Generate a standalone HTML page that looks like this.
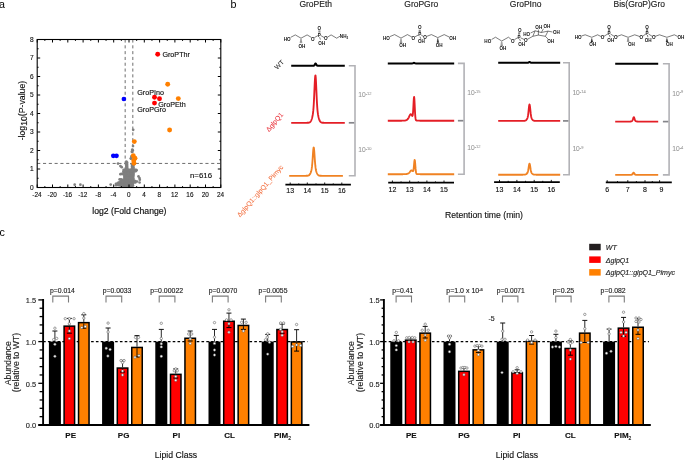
<!DOCTYPE html>
<html><head><meta charset="utf-8"><title>Figure</title>
<style>
html,body{margin:0;padding:0;background:#fff;width:685px;height:461px;overflow:hidden}
svg{display:block;will-change:transform;font-family:"Liberation Sans",sans-serif}
</style></head><body>
<svg width="685" height="461" viewBox="0 0 685 461">
<rect width="685" height="461" fill="#fff"/>
<text x="-1" y="7.8" font-size="10.7">a</text>
<text x="230.6" y="7.8" font-size="10.7">b</text>
<text x="-0.6" y="235.9" font-size="10.7">c</text>
<line x1="37.2" y1="163.43" x2="220.8" y2="163.43" stroke="#6e6e6e" stroke-width="1" stroke-dasharray="3.1 2.7"/>
<line x1="125.17" y1="39.5" x2="125.17" y2="187.5" stroke="#6e6e6e" stroke-width="1" stroke-dasharray="3.1 2.7"/>
<line x1="132.82" y1="39.5" x2="132.82" y2="187.5" stroke="#6e6e6e" stroke-width="1" stroke-dasharray="3.1 2.7"/>
<circle cx="126.25" cy="162.66" r="1.35" fill="#7f7f7f" />
<circle cx="127.15" cy="162.63" r="1.35" fill="#7f7f7f" />
<circle cx="126.31" cy="164.15" r="1.35" fill="#7f7f7f" />
<circle cx="126.97" cy="164.2" r="1.35" fill="#7f7f7f" />
<circle cx="131.96" cy="164.17" r="1.35" fill="#7f7f7f" />
<circle cx="133.27" cy="164.04" r="1.35" fill="#7f7f7f" />
<circle cx="126.28" cy="165.73" r="1.35" fill="#7f7f7f" />
<circle cx="126.99" cy="165.49" r="1.35" fill="#7f7f7f" />
<circle cx="132.14" cy="165.78" r="1.35" fill="#7f7f7f" />
<circle cx="133.42" cy="165.56" r="1.35" fill="#7f7f7f" />
<circle cx="126.44" cy="166.82" r="1.35" fill="#7f7f7f" />
<circle cx="127.21" cy="166.92" r="1.35" fill="#7f7f7f" />
<circle cx="131.99" cy="166.85" r="1.35" fill="#7f7f7f" />
<circle cx="133.34" cy="167.13" r="1.35" fill="#7f7f7f" />
<circle cx="126.2" cy="168.43" r="1.35" fill="#7f7f7f" />
<circle cx="127.14" cy="168.35" r="1.35" fill="#7f7f7f" />
<circle cx="132.11" cy="168.23" r="1.35" fill="#7f7f7f" />
<circle cx="133.27" cy="168.28" r="1.35" fill="#7f7f7f" />
<circle cx="123.65" cy="169.77" r="1.35" fill="#7f7f7f" />
<circle cx="124.9" cy="169.83" r="1.35" fill="#7f7f7f" />
<circle cx="126.3" cy="169.72" r="1.35" fill="#7f7f7f" />
<circle cx="127.75" cy="169.88" r="1.35" fill="#7f7f7f" />
<circle cx="128.95" cy="169.83" r="1.35" fill="#7f7f7f" />
<circle cx="130.39" cy="169.95" r="1.35" fill="#7f7f7f" />
<circle cx="131.8" cy="169.72" r="1.35" fill="#7f7f7f" />
<circle cx="133.23" cy="169.65" r="1.35" fill="#7f7f7f" />
<circle cx="134.42" cy="169.9" r="1.35" fill="#7f7f7f" />
<circle cx="135.7" cy="169.8" r="1.35" fill="#7f7f7f" />
<circle cx="123.46" cy="171.27" r="1.35" fill="#7f7f7f" />
<circle cx="125.03" cy="171.23" r="1.35" fill="#7f7f7f" />
<circle cx="126.42" cy="171.13" r="1.35" fill="#7f7f7f" />
<circle cx="127.73" cy="171.24" r="1.35" fill="#7f7f7f" />
<circle cx="129.05" cy="171.18" r="1.35" fill="#7f7f7f" />
<circle cx="130.48" cy="171.38" r="1.35" fill="#7f7f7f" />
<circle cx="131.73" cy="171.27" r="1.35" fill="#7f7f7f" />
<circle cx="132.96" cy="171.28" r="1.35" fill="#7f7f7f" />
<circle cx="134.49" cy="171.4" r="1.35" fill="#7f7f7f" />
<circle cx="135.9" cy="171.11" r="1.35" fill="#7f7f7f" />
<circle cx="123.57" cy="172.67" r="1.35" fill="#7f7f7f" />
<circle cx="124.86" cy="172.58" r="1.35" fill="#7f7f7f" />
<circle cx="126.3" cy="172.45" r="1.35" fill="#7f7f7f" />
<circle cx="127.67" cy="172.71" r="1.35" fill="#7f7f7f" />
<circle cx="129.09" cy="172.5" r="1.35" fill="#7f7f7f" />
<circle cx="130.57" cy="172.75" r="1.35" fill="#7f7f7f" />
<circle cx="131.87" cy="172.58" r="1.35" fill="#7f7f7f" />
<circle cx="133.41" cy="172.75" r="1.35" fill="#7f7f7f" />
<circle cx="120.4" cy="174.15" r="1.35" fill="#7f7f7f" />
<circle cx="121.69" cy="173.97" r="1.35" fill="#7f7f7f" />
<circle cx="123.17" cy="174.15" r="1.35" fill="#7f7f7f" />
<circle cx="124.8" cy="173.86" r="1.35" fill="#7f7f7f" />
<circle cx="126.03" cy="173.89" r="1.35" fill="#7f7f7f" />
<circle cx="127.5" cy="173.99" r="1.35" fill="#7f7f7f" />
<circle cx="129.06" cy="173.91" r="1.35" fill="#7f7f7f" />
<circle cx="130.34" cy="173.97" r="1.35" fill="#7f7f7f" />
<circle cx="131.91" cy="174.03" r="1.35" fill="#7f7f7f" />
<circle cx="133.54" cy="174.08" r="1.35" fill="#7f7f7f" />
<circle cx="124.5" cy="175.45" r="1.35" fill="#7f7f7f" />
<circle cx="126.04" cy="175.22" r="1.35" fill="#7f7f7f" />
<circle cx="127.59" cy="175.51" r="1.35" fill="#7f7f7f" />
<circle cx="129.06" cy="175.52" r="1.35" fill="#7f7f7f" />
<circle cx="130.4" cy="175.36" r="1.35" fill="#7f7f7f" />
<circle cx="131.8" cy="175.45" r="1.35" fill="#7f7f7f" />
<circle cx="133.27" cy="175.23" r="1.35" fill="#7f7f7f" />
<circle cx="124.41" cy="176.66" r="1.35" fill="#7f7f7f" />
<circle cx="125.94" cy="176.62" r="1.35" fill="#7f7f7f" />
<circle cx="127.32" cy="176.66" r="1.35" fill="#7f7f7f" />
<circle cx="128.83" cy="176.75" r="1.35" fill="#7f7f7f" />
<circle cx="130.29" cy="176.95" r="1.35" fill="#7f7f7f" />
<circle cx="131.95" cy="176.66" r="1.35" fill="#7f7f7f" />
<circle cx="133.33" cy="176.74" r="1.35" fill="#7f7f7f" />
<circle cx="124.46" cy="178.05" r="1.35" fill="#7f7f7f" />
<circle cx="126.09" cy="178.4" r="1.35" fill="#7f7f7f" />
<circle cx="127.46" cy="178.19" r="1.35" fill="#7f7f7f" />
<circle cx="128.83" cy="178.04" r="1.35" fill="#7f7f7f" />
<circle cx="130.39" cy="178.11" r="1.35" fill="#7f7f7f" />
<circle cx="132.02" cy="178.06" r="1.35" fill="#7f7f7f" />
<circle cx="133.26" cy="178.38" r="1.35" fill="#7f7f7f" />
<circle cx="119.61" cy="179.46" r="1.35" fill="#7f7f7f" />
<circle cx="120.99" cy="179.41" r="1.35" fill="#7f7f7f" />
<circle cx="122.37" cy="179.79" r="1.35" fill="#7f7f7f" />
<circle cx="123.85" cy="179.68" r="1.35" fill="#7f7f7f" />
<circle cx="125.05" cy="179.55" r="1.35" fill="#7f7f7f" />
<circle cx="126.4" cy="179.71" r="1.35" fill="#7f7f7f" />
<circle cx="127.89" cy="179.71" r="1.35" fill="#7f7f7f" />
<circle cx="129.21" cy="179.49" r="1.35" fill="#7f7f7f" />
<circle cx="130.73" cy="179.79" r="1.35" fill="#7f7f7f" />
<circle cx="132.13" cy="179.72" r="1.35" fill="#7f7f7f" />
<circle cx="133.5" cy="179.7" r="1.35" fill="#7f7f7f" />
<circle cx="120.92" cy="181.01" r="1.35" fill="#7f7f7f" />
<circle cx="122.38" cy="180.81" r="1.35" fill="#7f7f7f" />
<circle cx="123.7" cy="180.91" r="1.35" fill="#7f7f7f" />
<circle cx="125.19" cy="181.08" r="1.35" fill="#7f7f7f" />
<circle cx="126.82" cy="180.98" r="1.35" fill="#7f7f7f" />
<circle cx="128.23" cy="181.2" r="1.35" fill="#7f7f7f" />
<circle cx="129.66" cy="180.95" r="1.35" fill="#7f7f7f" />
<circle cx="130.86" cy="180.89" r="1.35" fill="#7f7f7f" />
<circle cx="132.27" cy="180.88" r="1.35" fill="#7f7f7f" />
<circle cx="133.82" cy="181.16" r="1.35" fill="#7f7f7f" />
<circle cx="135.3" cy="180.99" r="1.35" fill="#7f7f7f" />
<circle cx="118.45" cy="182.52" r="1.35" fill="#7f7f7f" />
<circle cx="119.68" cy="182.46" r="1.35" fill="#7f7f7f" />
<circle cx="121.32" cy="182.51" r="1.35" fill="#7f7f7f" />
<circle cx="122.68" cy="182.39" r="1.35" fill="#7f7f7f" />
<circle cx="123.9" cy="182.52" r="1.35" fill="#7f7f7f" />
<circle cx="125.35" cy="182.52" r="1.35" fill="#7f7f7f" />
<circle cx="126.94" cy="182.36" r="1.35" fill="#7f7f7f" />
<circle cx="128.17" cy="182.58" r="1.35" fill="#7f7f7f" />
<circle cx="129.67" cy="182.27" r="1.35" fill="#7f7f7f" />
<circle cx="130.89" cy="182.26" r="1.35" fill="#7f7f7f" />
<circle cx="132.52" cy="182.52" r="1.35" fill="#7f7f7f" />
<circle cx="133.69" cy="182.53" r="1.35" fill="#7f7f7f" />
<circle cx="135.34" cy="182.46" r="1.35" fill="#7f7f7f" />
<circle cx="115.96" cy="183.82" r="1.35" fill="#7f7f7f" />
<circle cx="117.29" cy="183.61" r="1.35" fill="#7f7f7f" />
<circle cx="118.94" cy="183.86" r="1.35" fill="#7f7f7f" />
<circle cx="120.21" cy="183.97" r="1.35" fill="#7f7f7f" />
<circle cx="121.58" cy="183.95" r="1.35" fill="#7f7f7f" />
<circle cx="123.1" cy="183.68" r="1.35" fill="#7f7f7f" />
<circle cx="124.33" cy="183.72" r="1.35" fill="#7f7f7f" />
<circle cx="125.72" cy="183.83" r="1.35" fill="#7f7f7f" />
<circle cx="127.13" cy="183.77" r="1.35" fill="#7f7f7f" />
<circle cx="128.49" cy="183.96" r="1.35" fill="#7f7f7f" />
<circle cx="129.96" cy="183.78" r="1.35" fill="#7f7f7f" />
<circle cx="131.43" cy="183.96" r="1.35" fill="#7f7f7f" />
<circle cx="132.78" cy="183.97" r="1.35" fill="#7f7f7f" />
<circle cx="116" cy="185.21" r="1.35" fill="#7f7f7f" />
<circle cx="117.41" cy="185.01" r="1.35" fill="#7f7f7f" />
<circle cx="118.78" cy="185.07" r="1.35" fill="#7f7f7f" />
<circle cx="120.05" cy="185.32" r="1.35" fill="#7f7f7f" />
<circle cx="121.5" cy="185.19" r="1.35" fill="#7f7f7f" />
<circle cx="123.07" cy="185.22" r="1.35" fill="#7f7f7f" />
<circle cx="124.35" cy="185.21" r="1.35" fill="#7f7f7f" />
<circle cx="125.82" cy="185.31" r="1.35" fill="#7f7f7f" />
<circle cx="127.08" cy="185.22" r="1.35" fill="#7f7f7f" />
<circle cx="128.52" cy="185.11" r="1.35" fill="#7f7f7f" />
<circle cx="130.08" cy="185.2" r="1.35" fill="#7f7f7f" />
<circle cx="131.42" cy="185.3" r="1.35" fill="#7f7f7f" />
<circle cx="132.92" cy="185.18" r="1.35" fill="#7f7f7f" />
<circle cx="122.03" cy="186.3" r="1.35" fill="#7f7f7f" />
<circle cx="123.43" cy="186.38" r="1.35" fill="#7f7f7f" />
<circle cx="124.84" cy="186.31" r="1.35" fill="#7f7f7f" />
<circle cx="126.28" cy="186.48" r="1.35" fill="#7f7f7f" />
<circle cx="127.77" cy="186.45" r="1.35" fill="#7f7f7f" />
<circle cx="129.28" cy="186.2" r="1.35" fill="#7f7f7f" />
<circle cx="130.59" cy="186.48" r="1.35" fill="#7f7f7f" />
<circle cx="132.1" cy="186.15" r="1.35" fill="#7f7f7f" />
<circle cx="118" cy="163.6" r="1.35" fill="#7f7f7f" />
<circle cx="120.4" cy="166.1" r="1.35" fill="#7f7f7f" />
<circle cx="121.7" cy="167.2" r="1.35" fill="#7f7f7f" />
<circle cx="110.7" cy="184.6" r="1.35" fill="#7f7f7f" />
<circle cx="74.7" cy="184.7" r="1.35" fill="#7f7f7f" />
<circle cx="80.4" cy="184.7" r="1.35" fill="#7f7f7f" />
<circle cx="138.5" cy="176.4" r="1.35" fill="#7f7f7f" />
<circle cx="139.5" cy="178" r="1.35" fill="#7f7f7f" />
<circle cx="139.8" cy="179.7" r="1.35" fill="#7f7f7f" />
<circle cx="139.6" cy="182.5" r="1.35" fill="#7f7f7f" />
<circle cx="137" cy="181.5" r="1.35" fill="#7f7f7f" />
<circle cx="136.6" cy="170.2" r="1.35" fill="#7f7f7f" />
<circle cx="133.2" cy="129.8" r="1.35" fill="#7f7f7f" />
<circle cx="132.7" cy="150.3" r="1.35" fill="#7f7f7f" />
<circle cx="132.1" cy="152" r="1.35" fill="#7f7f7f" />
<circle cx="131.4" cy="156.4" r="1.35" fill="#7f7f7f" />
<circle cx="131" cy="158.4" r="1.35" fill="#7f7f7f" />
<circle cx="126.4" cy="161.6" r="1.35" fill="#7f7f7f" />
<circle cx="133" cy="146.1" r="1.35" fill="#7f7f7f" />
<circle cx="132.3" cy="149.6" r="1.35" fill="#7f7f7f" />
<circle cx="131.9" cy="151.7" r="1.35" fill="#7f7f7f" />
<circle cx="130.9" cy="158.6" r="1.35" fill="#7f7f7f" />
<circle cx="134.3" cy="141.6" r="2.45" fill="#ff8000" />
<circle cx="133.3" cy="155.8" r="2.45" fill="#ff8000" />
<circle cx="135" cy="158.3" r="2.45" fill="#ff8000" />
<circle cx="133.7" cy="160.7" r="2.45" fill="#ff8000" />
<circle cx="134" cy="163.3" r="2.45" fill="#ff8000" />
<circle cx="169.6" cy="130" r="2.45" fill="#ff8000" />
<circle cx="167.7" cy="84.3" r="2.45" fill="#ff8000" />
<circle cx="178.3" cy="98.6" r="2.45" fill="#ff8000" />
<circle cx="157.7" cy="54.2" r="2.45" fill="#ff0000" />
<circle cx="154.5" cy="97.3" r="2.45" fill="#ff0000" />
<circle cx="159.5" cy="98.8" r="2.45" fill="#ff0000" />
<circle cx="154.5" cy="103.1" r="2.45" fill="#ff0000" />
<circle cx="123.9" cy="99" r="2.35" fill="#0000ff" />
<circle cx="113.3" cy="155.8" r="2.35" fill="#0000ff" />
<circle cx="116.5" cy="155.8" r="2.35" fill="#0000ff" />
<rect x="37.2" y="39.5" width="183.6" height="148" fill="none" stroke="#000" stroke-width="1.1"/>
<line x1="37.2" y1="187.5" x2="37.2" y2="184.5" stroke="#000" stroke-width="1" />
<line x1="37.2" y1="39.5" x2="37.2" y2="42.5" stroke="#000" stroke-width="1" />
<line x1="44.85" y1="187.5" x2="44.85" y2="186.1" stroke="#000" stroke-width="1" />
<line x1="44.85" y1="39.5" x2="44.85" y2="40.9" stroke="#000" stroke-width="1" />
<line x1="52.5" y1="187.5" x2="52.5" y2="184.5" stroke="#000" stroke-width="1" />
<line x1="52.5" y1="39.5" x2="52.5" y2="42.5" stroke="#000" stroke-width="1" />
<line x1="60.15" y1="187.5" x2="60.15" y2="186.1" stroke="#000" stroke-width="1" />
<line x1="60.15" y1="39.5" x2="60.15" y2="40.9" stroke="#000" stroke-width="1" />
<line x1="67.8" y1="187.5" x2="67.8" y2="184.5" stroke="#000" stroke-width="1" />
<line x1="67.8" y1="39.5" x2="67.8" y2="42.5" stroke="#000" stroke-width="1" />
<line x1="75.45" y1="187.5" x2="75.45" y2="186.1" stroke="#000" stroke-width="1" />
<line x1="75.45" y1="39.5" x2="75.45" y2="40.9" stroke="#000" stroke-width="1" />
<line x1="83.1" y1="187.5" x2="83.1" y2="184.5" stroke="#000" stroke-width="1" />
<line x1="83.1" y1="39.5" x2="83.1" y2="42.5" stroke="#000" stroke-width="1" />
<line x1="90.75" y1="187.5" x2="90.75" y2="186.1" stroke="#000" stroke-width="1" />
<line x1="90.75" y1="39.5" x2="90.75" y2="40.9" stroke="#000" stroke-width="1" />
<line x1="98.4" y1="187.5" x2="98.4" y2="184.5" stroke="#000" stroke-width="1" />
<line x1="98.4" y1="39.5" x2="98.4" y2="42.5" stroke="#000" stroke-width="1" />
<line x1="106.05" y1="187.5" x2="106.05" y2="186.1" stroke="#000" stroke-width="1" />
<line x1="106.05" y1="39.5" x2="106.05" y2="40.9" stroke="#000" stroke-width="1" />
<line x1="113.7" y1="187.5" x2="113.7" y2="184.5" stroke="#000" stroke-width="1" />
<line x1="113.7" y1="39.5" x2="113.7" y2="42.5" stroke="#000" stroke-width="1" />
<line x1="121.35" y1="187.5" x2="121.35" y2="186.1" stroke="#000" stroke-width="1" />
<line x1="121.35" y1="39.5" x2="121.35" y2="40.9" stroke="#000" stroke-width="1" />
<line x1="129" y1="187.5" x2="129" y2="184.5" stroke="#000" stroke-width="1" />
<line x1="129" y1="39.5" x2="129" y2="42.5" stroke="#000" stroke-width="1" />
<line x1="136.65" y1="187.5" x2="136.65" y2="186.1" stroke="#000" stroke-width="1" />
<line x1="136.65" y1="39.5" x2="136.65" y2="40.9" stroke="#000" stroke-width="1" />
<line x1="144.3" y1="187.5" x2="144.3" y2="184.5" stroke="#000" stroke-width="1" />
<line x1="144.3" y1="39.5" x2="144.3" y2="42.5" stroke="#000" stroke-width="1" />
<line x1="151.95" y1="187.5" x2="151.95" y2="186.1" stroke="#000" stroke-width="1" />
<line x1="151.95" y1="39.5" x2="151.95" y2="40.9" stroke="#000" stroke-width="1" />
<line x1="159.6" y1="187.5" x2="159.6" y2="184.5" stroke="#000" stroke-width="1" />
<line x1="159.6" y1="39.5" x2="159.6" y2="42.5" stroke="#000" stroke-width="1" />
<line x1="167.25" y1="187.5" x2="167.25" y2="186.1" stroke="#000" stroke-width="1" />
<line x1="167.25" y1="39.5" x2="167.25" y2="40.9" stroke="#000" stroke-width="1" />
<line x1="174.9" y1="187.5" x2="174.9" y2="184.5" stroke="#000" stroke-width="1" />
<line x1="174.9" y1="39.5" x2="174.9" y2="42.5" stroke="#000" stroke-width="1" />
<line x1="182.55" y1="187.5" x2="182.55" y2="186.1" stroke="#000" stroke-width="1" />
<line x1="182.55" y1="39.5" x2="182.55" y2="40.9" stroke="#000" stroke-width="1" />
<line x1="190.2" y1="187.5" x2="190.2" y2="184.5" stroke="#000" stroke-width="1" />
<line x1="190.2" y1="39.5" x2="190.2" y2="42.5" stroke="#000" stroke-width="1" />
<line x1="197.85" y1="187.5" x2="197.85" y2="186.1" stroke="#000" stroke-width="1" />
<line x1="197.85" y1="39.5" x2="197.85" y2="40.9" stroke="#000" stroke-width="1" />
<line x1="205.5" y1="187.5" x2="205.5" y2="184.5" stroke="#000" stroke-width="1" />
<line x1="205.5" y1="39.5" x2="205.5" y2="42.5" stroke="#000" stroke-width="1" />
<line x1="213.15" y1="187.5" x2="213.15" y2="186.1" stroke="#000" stroke-width="1" />
<line x1="213.15" y1="39.5" x2="213.15" y2="40.9" stroke="#000" stroke-width="1" />
<line x1="220.8" y1="187.5" x2="220.8" y2="184.5" stroke="#000" stroke-width="1" />
<line x1="220.8" y1="39.5" x2="220.8" y2="42.5" stroke="#000" stroke-width="1" />
<line x1="37.2" y1="187.5" x2="40.2" y2="187.5" stroke="#000" stroke-width="1" />
<line x1="220.8" y1="187.5" x2="217.8" y2="187.5" stroke="#000" stroke-width="1" />
<line x1="37.2" y1="178.25" x2="38.6" y2="178.25" stroke="#000" stroke-width="1" />
<line x1="220.8" y1="178.25" x2="219.4" y2="178.25" stroke="#000" stroke-width="1" />
<line x1="37.2" y1="169" x2="40.2" y2="169" stroke="#000" stroke-width="1" />
<line x1="220.8" y1="169" x2="217.8" y2="169" stroke="#000" stroke-width="1" />
<line x1="37.2" y1="159.75" x2="38.6" y2="159.75" stroke="#000" stroke-width="1" />
<line x1="220.8" y1="159.75" x2="219.4" y2="159.75" stroke="#000" stroke-width="1" />
<line x1="37.2" y1="150.5" x2="40.2" y2="150.5" stroke="#000" stroke-width="1" />
<line x1="220.8" y1="150.5" x2="217.8" y2="150.5" stroke="#000" stroke-width="1" />
<line x1="37.2" y1="141.25" x2="38.6" y2="141.25" stroke="#000" stroke-width="1" />
<line x1="220.8" y1="141.25" x2="219.4" y2="141.25" stroke="#000" stroke-width="1" />
<line x1="37.2" y1="132" x2="40.2" y2="132" stroke="#000" stroke-width="1" />
<line x1="220.8" y1="132" x2="217.8" y2="132" stroke="#000" stroke-width="1" />
<line x1="37.2" y1="122.75" x2="38.6" y2="122.75" stroke="#000" stroke-width="1" />
<line x1="220.8" y1="122.75" x2="219.4" y2="122.75" stroke="#000" stroke-width="1" />
<line x1="37.2" y1="113.5" x2="40.2" y2="113.5" stroke="#000" stroke-width="1" />
<line x1="220.8" y1="113.5" x2="217.8" y2="113.5" stroke="#000" stroke-width="1" />
<line x1="37.2" y1="104.25" x2="38.6" y2="104.25" stroke="#000" stroke-width="1" />
<line x1="220.8" y1="104.25" x2="219.4" y2="104.25" stroke="#000" stroke-width="1" />
<line x1="37.2" y1="95" x2="40.2" y2="95" stroke="#000" stroke-width="1" />
<line x1="220.8" y1="95" x2="217.8" y2="95" stroke="#000" stroke-width="1" />
<line x1="37.2" y1="85.75" x2="38.6" y2="85.75" stroke="#000" stroke-width="1" />
<line x1="220.8" y1="85.75" x2="219.4" y2="85.75" stroke="#000" stroke-width="1" />
<line x1="37.2" y1="76.5" x2="40.2" y2="76.5" stroke="#000" stroke-width="1" />
<line x1="220.8" y1="76.5" x2="217.8" y2="76.5" stroke="#000" stroke-width="1" />
<line x1="37.2" y1="67.25" x2="38.6" y2="67.25" stroke="#000" stroke-width="1" />
<line x1="220.8" y1="67.25" x2="219.4" y2="67.25" stroke="#000" stroke-width="1" />
<line x1="37.2" y1="58" x2="40.2" y2="58" stroke="#000" stroke-width="1" />
<line x1="220.8" y1="58" x2="217.8" y2="58" stroke="#000" stroke-width="1" />
<line x1="37.2" y1="48.75" x2="38.6" y2="48.75" stroke="#000" stroke-width="1" />
<line x1="220.8" y1="48.75" x2="219.4" y2="48.75" stroke="#000" stroke-width="1" />
<line x1="37.2" y1="39.5" x2="40.2" y2="39.5" stroke="#000" stroke-width="1" />
<line x1="220.8" y1="39.5" x2="217.8" y2="39.5" stroke="#000" stroke-width="1" />
<text x="36.9" y="197" font-size="7" stroke="#111" stroke-width="0.14" text-anchor="middle" fill="#111" textLength="9.25" lengthAdjust="spacingAndGlyphs">-24</text>
<text x="52.2" y="197" font-size="7" stroke="#111" stroke-width="0.14" text-anchor="middle" fill="#111" textLength="9.25" lengthAdjust="spacingAndGlyphs">-20</text>
<text x="67.5" y="197" font-size="7" stroke="#111" stroke-width="0.14" text-anchor="middle" fill="#111" textLength="9.25" lengthAdjust="spacingAndGlyphs">-16</text>
<text x="82.8" y="197" font-size="7" stroke="#111" stroke-width="0.14" text-anchor="middle" fill="#111" textLength="9.25" lengthAdjust="spacingAndGlyphs">-12</text>
<text x="98.1" y="197" font-size="7" stroke="#111" stroke-width="0.14" text-anchor="middle" fill="#111" textLength="5.69" lengthAdjust="spacingAndGlyphs">-8</text>
<text x="113.4" y="197" font-size="7" stroke="#111" stroke-width="0.14" text-anchor="middle" fill="#111" textLength="5.69" lengthAdjust="spacingAndGlyphs">-4</text>
<text x="128.7" y="197" font-size="7" stroke="#111" stroke-width="0.14" text-anchor="middle" fill="#111" textLength="3.56" lengthAdjust="spacingAndGlyphs">0</text>
<text x="144" y="197" font-size="7" stroke="#111" stroke-width="0.14" text-anchor="middle" fill="#111" textLength="3.56" lengthAdjust="spacingAndGlyphs">4</text>
<text x="159.3" y="197" font-size="7" stroke="#111" stroke-width="0.14" text-anchor="middle" fill="#111" textLength="3.56" lengthAdjust="spacingAndGlyphs">8</text>
<text x="174.6" y="197" font-size="7" stroke="#111" stroke-width="0.14" text-anchor="middle" fill="#111" textLength="7.12" lengthAdjust="spacingAndGlyphs">12</text>
<text x="189.9" y="197" font-size="7" stroke="#111" stroke-width="0.14" text-anchor="middle" fill="#111" textLength="7.12" lengthAdjust="spacingAndGlyphs">16</text>
<text x="205.2" y="197" font-size="7" stroke="#111" stroke-width="0.14" text-anchor="middle" fill="#111" textLength="7.12" lengthAdjust="spacingAndGlyphs">20</text>
<text x="220.5" y="197" font-size="7" stroke="#111" stroke-width="0.14" text-anchor="middle" fill="#111" textLength="7.12" lengthAdjust="spacingAndGlyphs">24</text>
<text x="33.6" y="189.7" font-size="7" stroke="#111" stroke-width="0.14" text-anchor="end" fill="#111" textLength="3.67" lengthAdjust="spacingAndGlyphs">0</text>
<text x="33.6" y="171.2" font-size="7" stroke="#111" stroke-width="0.14" text-anchor="end" fill="#111" textLength="3.67" lengthAdjust="spacingAndGlyphs">1</text>
<text x="33.6" y="152.7" font-size="7" stroke="#111" stroke-width="0.14" text-anchor="end" fill="#111" textLength="3.67" lengthAdjust="spacingAndGlyphs">2</text>
<text x="33.6" y="134.2" font-size="7" stroke="#111" stroke-width="0.14" text-anchor="end" fill="#111" textLength="3.67" lengthAdjust="spacingAndGlyphs">3</text>
<text x="33.6" y="115.7" font-size="7" stroke="#111" stroke-width="0.14" text-anchor="end" fill="#111" textLength="3.67" lengthAdjust="spacingAndGlyphs">4</text>
<text x="33.6" y="97.2" font-size="7" stroke="#111" stroke-width="0.14" text-anchor="end" fill="#111" textLength="3.67" lengthAdjust="spacingAndGlyphs">5</text>
<text x="33.6" y="78.7" font-size="7" stroke="#111" stroke-width="0.14" text-anchor="end" fill="#111" textLength="3.67" lengthAdjust="spacingAndGlyphs">6</text>
<text x="33.6" y="60.2" font-size="7" stroke="#111" stroke-width="0.14" text-anchor="end" fill="#111" textLength="3.67" lengthAdjust="spacingAndGlyphs">7</text>
<text x="33.6" y="41.7" font-size="7" stroke="#111" stroke-width="0.14" text-anchor="end" fill="#111" textLength="3.67" lengthAdjust="spacingAndGlyphs">8</text>
<text x="190" y="177.8" font-size="7.2" stroke="#111" stroke-width="0.14" fill="#111" textLength="22" lengthAdjust="spacingAndGlyphs">n=616</text>
<text x="162.4" y="56.6" font-size="7.2" stroke="#111" stroke-width="0.14" fill="#111">GroPThr</text>
<text x="137.2" y="95.2" font-size="7.2" stroke="#111" stroke-width="0.14" fill="#111">GroPIno</text>
<text x="158.2" y="106.9" font-size="7.2" stroke="#111" stroke-width="0.14" fill="#111">GroPEth</text>
<text x="137.2" y="111.5" font-size="7.2" stroke="#111" stroke-width="0.14" fill="#111">GroPGro</text>
<text x="92.3" y="213.6" font-size="8.7" stroke="#111" stroke-width="0.18" fill="#111" textLength="74.2" lengthAdjust="spacingAndGlyphs">log2 (Fold Change)</text>
<text transform="translate(25.0,140.3) rotate(-90)" font-size="8.7" fill="#111" stroke="#111" stroke-width="0.14">-log<tspan dy="1.6">10</tspan><tspan dy="-1.6">(P-value)</tspan></text>
<text x="315.7" y="6.7" font-size="8.5" stroke="#222" stroke-width="0.14" text-anchor="middle" fill="#222">GroPEth</text>
<text x="421.3" y="6.7" font-size="8.5" stroke="#222" stroke-width="0.14" text-anchor="middle" fill="#222">GroPGro</text>
<text x="525.6" y="6.7" font-size="8.5" stroke="#222" stroke-width="0.14" text-anchor="middle" fill="#222">GroPIno</text>
<text x="639.3" y="6.7" font-size="8.5" stroke="#222" stroke-width="0.14" text-anchor="middle" fill="#222">Bis(GroP)Gro</text>
<path d="M291.2 65.7 L291.45 65.7 L291.7 65.7 L291.95 65.7 L292.2 65.7 L292.45 65.7 L292.7 65.7 L292.95 65.7 L293.2 65.7 L293.45 65.7 L293.7 65.7 L293.96 65.7 L294.21 65.7 L294.46 65.7 L294.71 65.7 L294.96 65.7 L295.21 65.7 L295.46 65.7 L295.71 65.7 L295.96 65.7 L296.21 65.7 L296.46 65.7 L296.71 65.7 L296.96 65.7 L297.21 65.7 L297.46 65.7 L297.71 65.7 L297.96 65.7 L298.21 65.7 L298.46 65.7 L298.71 65.7 L298.96 65.7 L299.21 65.7 L299.47 65.7 L299.72 65.7 L299.97 65.7 L300.22 65.7 L300.47 65.7 L300.72 65.7 L300.97 65.7 L301.22 65.7 L301.47 65.7 L301.72 65.7 L301.97 65.7 L302.22 65.7 L302.47 65.7 L302.72 65.7 L302.97 65.7 L303.22 65.7 L303.47 65.7 L303.72 65.7 L303.97 65.7 L304.22 65.7 L304.47 65.7 L304.73 65.7 L304.98 65.7 L305.23 65.7 L305.48 65.7 L305.73 65.7 L305.98 65.7 L306.23 65.7 L306.48 65.7 L306.73 65.7 L306.98 65.7 L307.23 65.7 L307.48 65.7 L307.73 65.7 L307.98 65.7 L308.23 65.7 L308.48 65.7 L308.73 65.7 L308.98 65.7 L309.23 65.7 L309.48 65.7 L309.73 65.7 L309.99 65.7 L310.24 65.7 L310.49 65.7 L310.74 65.7 L310.99 65.7 L311.24 65.7 L311.49 65.7 L311.74 65.7 L311.99 65.7 L312.24 65.7 L312.49 65.7 L312.74 65.7 L312.99 65.7 L313.24 65.7 L313.49 65.69 L313.74 65.67 L313.99 65.61 L314.24 65.46 L314.49 65.19 L314.74 64.77 L314.99 64.24 L315.24 63.73 L315.5 63.43 L315.75 63.46 L316 63.81 L316.25 64.33 L316.5 64.85 L316.75 65.25 L317 65.49 L317.25 65.62 L317.5 65.67 L317.75 65.69 L318 65.7 L318.25 65.7 L318.5 65.7 L318.75 65.7 L319 65.7 L319.25 65.7 L319.5 65.7 L319.75 65.7 L320 65.7 L320.25 65.7 L320.5 65.7 L320.76 65.7 L321.01 65.7 L321.26 65.7 L321.51 65.7 L321.76 65.7 L322.01 65.7 L322.26 65.7 L322.51 65.7 L322.76 65.7 L323.01 65.7 L323.26 65.7 L323.51 65.7 L323.76 65.7 L324.01 65.7 L324.26 65.7 L324.51 65.7 L324.76 65.7 L325.01 65.7 L325.26 65.7 L325.51 65.7 L325.76 65.7 L326.01 65.7 L326.27 65.7 L326.52 65.7 L326.77 65.7 L327.02 65.7 L327.27 65.7 L327.52 65.7 L327.77 65.7 L328.02 65.7 L328.27 65.7 L328.52 65.7 L328.77 65.7 L329.02 65.7 L329.27 65.7 L329.52 65.7 L329.77 65.7 L330.02 65.7 L330.27 65.7 L330.52 65.7 L330.77 65.7 L331.02 65.7 L331.27 65.7 L331.53 65.7 L331.78 65.7 L332.03 65.7 L332.28 65.7 L332.53 65.7 L332.78 65.7 L333.03 65.7 L333.28 65.7 L333.53 65.7 L333.78 65.7 L334.03 65.7 L334.28 65.7 L334.53 65.7 L334.78 65.7 L335.03 65.7 L335.28 65.7 L335.53 65.7 L335.78 65.7 L336.03 65.7 L336.28 65.7 L336.53 65.7 L336.79 65.7 L337.04 65.7 L337.29 65.7 L337.54 65.7 L337.79 65.7 L338.04 65.7 L338.29 65.7 L338.54 65.7 L338.79 65.7 L339.04 65.7 L339.29 65.7 L339.54 65.7 L339.79 65.7 L340.04 65.7 L340.29 65.7 L340.54 65.7 L340.79 65.7 L341.04 65.7 L341.29 65.7 L341.54 65.7 L341.79 65.7 L342.04 65.7 L342.3 65.7 L342.55 65.7 L342.8 65.7 L343.05 65.7 L343.3 65.7 L343.55 65.7 L343.8 65.7 L344.05 65.7 L344.3 65.7 L344.55 65.7 L344.8 65.7" stroke="#000" stroke-width="2" fill="none" stroke-linejoin="round" stroke-linecap="butt"/>
<path d="M291.2 122.8 L291.45 122.8 L291.7 122.8 L291.95 122.8 L292.2 122.8 L292.45 122.8 L292.7 122.8 L292.95 122.8 L293.2 122.8 L293.45 122.8 L293.7 122.8 L293.96 122.8 L294.21 122.8 L294.46 122.8 L294.71 122.8 L294.96 122.8 L295.21 122.8 L295.46 122.8 L295.71 122.8 L295.96 122.8 L296.21 122.8 L296.46 122.8 L296.71 122.8 L296.96 122.8 L297.21 122.8 L297.46 122.8 L297.71 122.8 L297.96 122.8 L298.21 122.8 L298.46 122.8 L298.71 122.8 L298.96 122.8 L299.21 122.8 L299.47 122.8 L299.72 122.8 L299.97 122.8 L300.22 122.8 L300.47 122.8 L300.72 122.8 L300.97 122.8 L301.22 122.8 L301.47 122.8 L301.72 122.8 L301.97 122.8 L302.22 122.8 L302.47 122.8 L302.72 122.8 L302.97 122.8 L303.22 122.8 L303.47 122.8 L303.72 122.8 L303.97 122.8 L304.22 122.8 L304.47 122.8 L304.73 122.8 L304.98 122.8 L305.23 122.8 L305.48 122.8 L305.73 122.8 L305.98 122.8 L306.23 122.8 L306.48 122.8 L306.73 122.8 L306.98 122.79 L307.23 122.79 L307.48 122.78 L307.73 122.78 L307.98 122.76 L308.23 122.74 L308.48 122.72 L308.73 122.68 L308.98 122.63 L309.23 122.56 L309.48 122.46 L309.73 122.33 L309.99 122.16 L310.24 121.94 L310.49 121.66 L310.74 121.32 L310.99 120.89 L311.24 120.37 L311.49 119.76 L311.74 119.04 L311.99 118.21 L312.24 117.24 L312.49 116.11 L312.74 114.76 L312.99 113.08 L313.24 110.94 L313.49 108.13 L313.74 104.48 L313.99 99.9 L314.24 94.49 L314.49 88.64 L314.74 83.02 L314.99 78.47 L315.24 75.78 L315.5 75.48 L315.75 77.63 L316 81.8 L316.25 87.25 L316.5 93.11 L316.75 98.67 L317 103.47 L317.25 107.34 L317.5 110.33 L317.75 112.62 L318 114.39 L318.25 115.81 L318.5 116.98 L318.75 117.99 L319 118.85 L319.25 119.6 L319.5 120.24 L319.75 120.78 L320 121.22 L320.25 121.59 L320.5 121.88 L320.76 122.11 L321.01 122.29 L321.26 122.43 L321.51 122.54 L321.76 122.61 L322.01 122.67 L322.26 122.71 L322.51 122.74 L322.76 122.76 L323.01 122.77 L323.26 122.78 L323.51 122.79 L323.76 122.79 L324.01 122.8 L324.26 122.8 L324.51 122.8 L324.76 122.8 L325.01 122.8 L325.26 122.8 L325.51 122.8 L325.76 122.8 L326.01 122.8 L326.27 122.8 L326.52 122.8 L326.77 122.8 L327.02 122.8 L327.27 122.8 L327.52 122.8 L327.77 122.8 L328.02 122.8 L328.27 122.8 L328.52 122.8 L328.77 122.8 L329.02 122.8 L329.27 122.8 L329.52 122.8 L329.77 122.8 L330.02 122.8 L330.27 122.8 L330.52 122.8 L330.77 122.8 L331.02 122.8 L331.27 122.8 L331.53 122.8 L331.78 122.8 L332.03 122.8 L332.28 122.8 L332.53 122.8 L332.78 122.8 L333.03 122.8 L333.28 122.8 L333.53 122.8 L333.78 122.8 L334.03 122.8 L334.28 122.8 L334.53 122.8 L334.78 122.8 L335.03 122.8 L335.28 122.8 L335.53 122.8 L335.78 122.8 L336.03 122.8 L336.28 122.8 L336.53 122.8 L336.79 122.8 L337.04 122.8 L337.29 122.8 L337.54 122.8 L337.79 122.8 L338.04 122.8 L338.29 122.8 L338.54 122.8 L338.79 122.8 L339.04 122.8 L339.29 122.8 L339.54 122.8 L339.79 122.8 L340.04 122.8 L340.29 122.8 L340.54 122.8 L340.79 122.8 L341.04 122.8 L341.29 122.8 L341.54 122.8 L341.79 122.8 L342.04 122.8 L342.3 122.8 L342.55 122.8 L342.8 122.8 L343.05 122.8 L343.3 122.8 L343.55 122.8 L343.8 122.8 L344.05 122.8 L344.3 122.8 L344.55 122.8 L344.8 122.8" stroke="#e41e26" stroke-width="1.85" fill="none" stroke-linejoin="round" stroke-linecap="butt"/>
<path d="M289.2 175.8 L289.45 175.8 L289.7 175.8 L289.95 175.8 L290.2 175.8 L290.45 175.8 L290.71 175.8 L290.96 175.8 L291.21 175.8 L291.46 175.8 L291.71 175.8 L291.96 175.8 L292.21 175.8 L292.46 175.8 L292.71 175.8 L292.96 175.8 L293.21 175.8 L293.47 175.8 L293.72 175.8 L293.97 175.8 L294.22 175.8 L294.47 175.8 L294.72 175.8 L294.97 175.8 L295.22 175.8 L295.47 175.8 L295.72 175.8 L295.98 175.8 L296.23 175.8 L296.48 175.8 L296.73 175.8 L296.98 175.8 L297.23 175.8 L297.48 175.8 L297.73 175.8 L297.98 175.8 L298.23 175.8 L298.48 175.8 L298.74 175.8 L298.99 175.8 L299.24 175.8 L299.49 175.8 L299.74 175.8 L299.99 175.8 L300.24 175.8 L300.49 175.8 L300.74 175.8 L300.99 175.8 L301.24 175.8 L301.5 175.8 L301.75 175.8 L302 175.8 L302.25 175.8 L302.5 175.8 L302.75 175.8 L303 175.8 L303.25 175.8 L303.5 175.8 L303.75 175.8 L304.01 175.8 L304.26 175.8 L304.51 175.8 L304.76 175.8 L305.01 175.8 L305.26 175.8 L305.51 175.8 L305.76 175.8 L306.01 175.79 L306.26 175.79 L306.51 175.79 L306.77 175.78 L307.02 175.77 L307.27 175.75 L307.52 175.72 L307.77 175.69 L308.02 175.64 L308.27 175.57 L308.52 175.47 L308.77 175.35 L309.02 175.19 L309.27 174.98 L309.53 174.72 L309.78 174.4 L310.03 174.02 L310.28 173.56 L310.53 173.03 L310.78 172.4 L311.03 171.66 L311.28 170.77 L311.53 169.63 L311.78 168.13 L312.04 166.13 L312.29 163.49 L312.54 160.22 L312.79 156.5 L313.04 152.77 L313.29 149.65 L313.54 147.75 L313.79 147.52 L314.04 148.99 L314.29 151.84 L314.54 155.47 L314.8 159.25 L315.05 162.67 L315.3 165.48 L315.55 167.65 L315.8 169.27 L316.05 170.49 L316.3 171.44 L316.55 172.21 L316.8 172.87 L317.05 173.42 L317.3 173.9 L317.56 174.31 L317.81 174.64 L318.06 174.92 L318.31 175.14 L318.56 175.31 L318.81 175.44 L319.06 175.55 L319.31 175.62 L319.56 175.68 L319.81 175.72 L320.06 175.74 L320.32 175.76 L320.57 175.78 L320.82 175.78 L321.07 175.79 L321.32 175.79 L321.57 175.8 L321.82 175.8 L322.07 175.8 L322.32 175.8 L322.57 175.8 L322.83 175.8 L323.08 175.8 L323.33 175.8 L323.58 175.8 L323.83 175.8 L324.08 175.8 L324.33 175.8 L324.58 175.8 L324.83 175.8 L325.08 175.8 L325.33 175.8 L325.59 175.8 L325.84 175.8 L326.09 175.8 L326.34 175.8 L326.59 175.8 L326.84 175.8 L327.09 175.8 L327.34 175.8 L327.59 175.8 L327.84 175.8 L328.09 175.8 L328.35 175.8 L328.6 175.8 L328.85 175.8 L329.1 175.8 L329.35 175.8 L329.6 175.8 L329.85 175.8 L330.1 175.8 L330.35 175.8 L330.6 175.8 L330.86 175.8 L331.11 175.8 L331.36 175.8 L331.61 175.8 L331.86 175.8 L332.11 175.8 L332.36 175.8 L332.61 175.8 L332.86 175.8 L333.11 175.8 L333.36 175.8 L333.62 175.8 L333.87 175.8 L334.12 175.8 L334.37 175.8 L334.62 175.8 L334.87 175.8 L335.12 175.8 L335.37 175.8 L335.62 175.8 L335.87 175.8 L336.12 175.8 L336.38 175.8 L336.63 175.8 L336.88 175.8 L337.13 175.8 L337.38 175.8 L337.63 175.8 L337.88 175.8 L338.13 175.8 L338.38 175.8 L338.63 175.8 L338.89 175.8 L339.14 175.8 L339.39 175.8 L339.64 175.8 L339.89 175.8 L340.14 175.8 L340.39 175.8 L340.64 175.8 L340.89 175.8 L341.14 175.8 L341.39 175.8 L341.65 175.8 L341.9 175.8 L342.15 175.8 L342.4 175.8 L342.65 175.8 L342.9 175.8" stroke="#f08223" stroke-width="1.85" fill="none" stroke-linejoin="round" stroke-linecap="butt"/>
<path d="M348.8 65.7 H355 V175.8 H348.8" stroke="#b2b2b6" stroke-width="1.6" fill="none" />
<line x1="348.8" y1="122.8" x2="354.2" y2="122.8" stroke="#85858a" stroke-width="1.7" />
<text x="358.2" y="97.25" font-size="6.7" stroke="#939393" stroke-width="0.05" fill="#939393">10<tspan font-size="4" dy="-2.3">-12</tspan></text>
<text x="358.2" y="152.3" font-size="6.7" stroke="#939393" stroke-width="0.05" fill="#939393">10<tspan font-size="4" dy="-2.3">-10</tspan></text>
<line x1="285.4" y1="184.7" x2="350.9" y2="184.7" stroke="#000" stroke-width="1.8" />
<line x1="290.2" y1="184.7" x2="290.2" y2="182.5" stroke="#000" stroke-width="0.9" />
<text x="290.2" y="193.3" font-size="7" stroke="#111" stroke-width="0.14" text-anchor="middle" fill="#111">13</text>
<line x1="298.75" y1="184.7" x2="298.75" y2="183.4" stroke="#000" stroke-width="0.9" />
<line x1="307.3" y1="184.7" x2="307.3" y2="182.5" stroke="#000" stroke-width="0.9" />
<text x="307.3" y="193.3" font-size="7" stroke="#111" stroke-width="0.14" text-anchor="middle" fill="#111">14</text>
<line x1="316" y1="184.7" x2="316" y2="183.4" stroke="#000" stroke-width="0.9" />
<line x1="324.7" y1="184.7" x2="324.7" y2="182.5" stroke="#000" stroke-width="0.9" />
<text x="324.7" y="193.3" font-size="7" stroke="#111" stroke-width="0.14" text-anchor="middle" fill="#111">15</text>
<line x1="333.25" y1="184.7" x2="333.25" y2="183.4" stroke="#000" stroke-width="0.9" />
<line x1="341.8" y1="184.7" x2="341.8" y2="182.5" stroke="#000" stroke-width="0.9" />
<text x="341.8" y="193.3" font-size="7" stroke="#111" stroke-width="0.14" text-anchor="middle" fill="#111">16</text>
<path d="M387.8 63.4 L388.05 63.4 L388.3 63.4 L388.55 63.4 L388.8 63.4 L389.05 63.4 L389.3 63.4 L389.55 63.4 L389.8 63.4 L390.06 63.4 L390.31 63.4 L390.56 63.4 L390.81 63.4 L391.06 63.4 L391.31 63.4 L391.56 63.4 L391.81 63.4 L392.06 63.4 L392.31 63.4 L392.56 63.4 L392.81 63.4 L393.06 63.4 L393.31 63.4 L393.56 63.4 L393.81 63.4 L394.06 63.4 L394.31 63.4 L394.57 63.4 L394.82 63.4 L395.07 63.4 L395.32 63.4 L395.57 63.4 L395.82 63.4 L396.07 63.4 L396.32 63.4 L396.57 63.4 L396.82 63.4 L397.07 63.4 L397.32 63.4 L397.57 63.4 L397.82 63.4 L398.07 63.4 L398.32 63.4 L398.57 63.4 L398.82 63.4 L399.08 63.4 L399.33 63.4 L399.58 63.4 L399.83 63.4 L400.08 63.4 L400.33 63.4 L400.58 63.4 L400.83 63.4 L401.08 63.4 L401.33 63.4 L401.58 63.4 L401.83 63.4 L402.08 63.4 L402.33 63.4 L402.58 63.4 L402.83 63.4 L403.08 63.4 L403.34 63.4 L403.59 63.4 L403.84 63.4 L404.09 63.4 L404.34 63.4 L404.59 63.4 L404.84 63.4 L405.09 63.4 L405.34 63.4 L405.59 63.4 L405.84 63.4 L406.09 63.4 L406.34 63.4 L406.59 63.4 L406.84 63.4 L407.09 63.4 L407.34 63.4 L407.59 63.4 L407.85 63.4 L408.1 63.4 L408.35 63.4 L408.6 63.4 L408.85 63.4 L409.1 63.4 L409.35 63.4 L409.6 63.4 L409.85 63.4 L410.1 63.4 L410.35 63.4 L410.6 63.4 L410.85 63.4 L411.1 63.4 L411.35 63.4 L411.6 63.4 L411.85 63.4 L412.1 63.4 L412.36 63.39 L412.61 63.37 L412.86 63.32 L413.11 63.23 L413.36 63.09 L413.61 62.93 L413.86 62.82 L414.11 62.81 L414.36 62.91 L414.61 63.06 L414.86 63.21 L415.11 63.31 L415.36 63.37 L415.61 63.39 L415.86 63.4 L416.11 63.4 L416.36 63.4 L416.62 63.4 L416.87 63.4 L417.12 63.4 L417.37 63.4 L417.62 63.4 L417.87 63.4 L418.12 63.4 L418.37 63.4 L418.62 63.4 L418.87 63.4 L419.12 63.4 L419.37 63.4 L419.62 63.4 L419.87 63.4 L420.12 63.4 L420.37 63.4 L420.62 63.4 L420.87 63.4 L421.13 63.4 L421.38 63.4 L421.63 63.4 L421.88 63.4 L422.13 63.4 L422.38 63.4 L422.63 63.4 L422.88 63.4 L423.13 63.4 L423.38 63.4 L423.63 63.4 L423.88 63.4 L424.13 63.4 L424.38 63.4 L424.63 63.4 L424.88 63.4 L425.13 63.4 L425.38 63.4 L425.64 63.4 L425.89 63.4 L426.14 63.4 L426.39 63.4 L426.64 63.4 L426.89 63.4 L427.14 63.4 L427.39 63.4 L427.64 63.4 L427.89 63.4 L428.14 63.4 L428.39 63.4 L428.64 63.4 L428.89 63.4 L429.14 63.4 L429.39 63.4 L429.64 63.4 L429.9 63.4 L430.15 63.4 L430.4 63.4 L430.65 63.4 L430.9 63.4 L431.15 63.4 L431.4 63.4 L431.65 63.4 L431.9 63.4 L432.15 63.4 L432.4 63.4 L432.65 63.4 L432.9 63.4 L433.15 63.4 L433.4 63.4 L433.65 63.4 L433.9 63.4 L434.15 63.4 L434.41 63.4 L434.66 63.4 L434.91 63.4 L435.16 63.4 L435.41 63.4 L435.66 63.4 L435.91 63.4 L436.16 63.4 L436.41 63.4 L436.66 63.4 L436.91 63.4 L437.16 63.4 L437.41 63.4 L437.66 63.4 L437.91 63.4 L438.16 63.4 L438.41 63.4 L438.66 63.4 L438.92 63.4 L439.17 63.4 L439.42 63.4 L439.67 63.4 L439.92 63.4 L440.17 63.4 L440.42 63.4 L440.67 63.4 L440.92 63.4 L441.17 63.4 L441.42 63.4 L441.67 63.4 L441.92 63.4 L442.17 63.4 L442.42 63.4 L442.67 63.4 L442.92 63.4 L443.18 63.4 L443.43 63.4 L443.68 63.4 L443.93 63.4 L444.18 63.4 L444.43 63.4 L444.68 63.4 L444.93 63.4 L445.18 63.4 L445.43 63.4 L445.68 63.4 L445.93 63.4 L446.18 63.4 L446.43 63.4 L446.68 63.4 L446.93 63.4 L447.18 63.4 L447.43 63.4 L447.69 63.4 L447.94 63.4 L448.19 63.4 L448.44 63.4 L448.69 63.4 L448.94 63.4 L449.19 63.4 L449.44 63.4 L449.69 63.4 L449.94 63.4 L450.19 63.4 L450.44 63.4 L450.69 63.4 L450.94 63.4 L451.19 63.4 L451.44 63.4 L451.69 63.4 L451.94 63.4 L452.2 63.4 L452.45 63.4 L452.7 63.4 L452.95 63.4 L453.2 63.4 L453.45 63.4 L453.7 63.4 L453.95 63.4 L454.2 63.4" stroke="#000" stroke-width="2" fill="none" stroke-linejoin="round" stroke-linecap="butt"/>
<path d="M387.8 120.7 L388.05 120.7 L388.3 120.7 L388.55 120.7 L388.8 120.7 L389.05 120.7 L389.3 120.7 L389.55 120.7 L389.8 120.7 L390.06 120.7 L390.31 120.7 L390.56 120.7 L390.81 120.7 L391.06 120.7 L391.31 120.7 L391.56 120.7 L391.81 120.7 L392.06 120.7 L392.31 120.7 L392.56 120.7 L392.81 120.7 L393.06 120.7 L393.31 120.7 L393.56 120.7 L393.81 120.7 L394.06 120.7 L394.31 120.7 L394.57 120.7 L394.82 120.7 L395.07 120.7 L395.32 120.7 L395.57 120.7 L395.82 120.7 L396.07 120.7 L396.32 120.7 L396.57 120.7 L396.82 120.7 L397.07 120.7 L397.32 120.7 L397.57 120.7 L397.82 120.7 L398.07 120.7 L398.32 120.7 L398.57 120.7 L398.82 120.7 L399.08 120.7 L399.33 120.7 L399.58 120.7 L399.83 120.7 L400.08 120.7 L400.33 120.7 L400.58 120.7 L400.83 120.7 L401.08 120.7 L401.33 120.7 L401.58 120.7 L401.83 120.7 L402.08 120.69 L402.33 120.69 L402.58 120.69 L402.83 120.69 L403.08 120.68 L403.34 120.67 L403.59 120.66 L403.84 120.65 L404.09 120.63 L404.34 120.61 L404.59 120.59 L404.84 120.56 L405.09 120.52 L405.34 120.47 L405.59 120.41 L405.84 120.34 L406.09 120.26 L406.34 120.16 L406.59 120.04 L406.84 119.9 L407.09 119.73 L407.34 119.52 L407.59 119.28 L407.85 118.99 L408.1 118.64 L408.35 118.24 L408.6 117.79 L408.85 117.29 L409.1 116.76 L409.35 116.21 L409.6 115.67 L409.85 115.17 L410.1 114.75 L410.35 114.43 L410.6 114.25 L410.85 114.2 L411.1 114.31 L411.35 114.55 L411.6 114.9 L411.85 115.33 L412.1 115.72 L412.36 115.91 L412.61 115.55 L412.86 114.17 L413.11 111.32 L413.36 107.02 L413.61 102.1 L413.86 98.17 L414.11 96.89 L414.36 98.91 L414.61 103.49 L414.86 108.96 L415.11 113.73 L415.36 117.06 L415.61 118.96 L415.86 119.89 L416.11 120.29 L416.36 120.45 L416.62 120.53 L416.87 120.57 L417.12 120.6 L417.37 120.62 L417.62 120.64 L417.87 120.66 L418.12 120.67 L418.37 120.68 L418.62 120.68 L418.87 120.69 L419.12 120.69 L419.37 120.69 L419.62 120.7 L419.87 120.7 L420.12 120.7 L420.37 120.7 L420.62 120.7 L420.87 120.7 L421.13 120.7 L421.38 120.7 L421.63 120.7 L421.88 120.7 L422.13 120.7 L422.38 120.7 L422.63 120.7 L422.88 120.7 L423.13 120.7 L423.38 120.7 L423.63 120.7 L423.88 120.7 L424.13 120.7 L424.38 120.7 L424.63 120.7 L424.88 120.7 L425.13 120.7 L425.38 120.7 L425.64 120.7 L425.89 120.7 L426.14 120.7 L426.39 120.7 L426.64 120.7 L426.89 120.7 L427.14 120.7 L427.39 120.7 L427.64 120.7 L427.89 120.7 L428.14 120.7 L428.39 120.7 L428.64 120.7 L428.89 120.7 L429.14 120.7 L429.39 120.7 L429.64 120.7 L429.9 120.7 L430.15 120.7 L430.4 120.7 L430.65 120.7 L430.9 120.7 L431.15 120.7 L431.4 120.7 L431.65 120.7 L431.9 120.7 L432.15 120.7 L432.4 120.7 L432.65 120.7 L432.9 120.7 L433.15 120.7 L433.4 120.7 L433.65 120.7 L433.9 120.7 L434.15 120.7 L434.41 120.7 L434.66 120.7 L434.91 120.7 L435.16 120.7 L435.41 120.7 L435.66 120.7 L435.91 120.7 L436.16 120.7 L436.41 120.7 L436.66 120.7 L436.91 120.7 L437.16 120.7 L437.41 120.7 L437.66 120.7 L437.91 120.7 L438.16 120.7 L438.41 120.7 L438.66 120.7 L438.92 120.7 L439.17 120.7 L439.42 120.7 L439.67 120.7 L439.92 120.7 L440.17 120.7 L440.42 120.7 L440.67 120.7 L440.92 120.7 L441.17 120.7 L441.42 120.7 L441.67 120.7 L441.92 120.7 L442.17 120.7 L442.42 120.7 L442.67 120.7 L442.92 120.7 L443.18 120.7 L443.43 120.7 L443.68 120.7 L443.93 120.7 L444.18 120.7 L444.43 120.7 L444.68 120.7 L444.93 120.7 L445.18 120.7 L445.43 120.7 L445.68 120.7 L445.93 120.7 L446.18 120.7 L446.43 120.7 L446.68 120.7 L446.93 120.7 L447.18 120.7 L447.43 120.7 L447.69 120.7 L447.94 120.7 L448.19 120.7 L448.44 120.7 L448.69 120.7 L448.94 120.7 L449.19 120.7 L449.44 120.7 L449.69 120.7 L449.94 120.7 L450.19 120.7 L450.44 120.7 L450.69 120.7 L450.94 120.7 L451.19 120.7 L451.44 120.7 L451.69 120.7 L451.94 120.7 L452.2 120.7 L452.45 120.7 L452.7 120.7 L452.95 120.7 L453.2 120.7 L453.45 120.7 L453.7 120.7 L453.95 120.7 L454.2 120.7" stroke="#e41e26" stroke-width="1.85" fill="none" stroke-linejoin="round" stroke-linecap="butt"/>
<path d="M387.8 174.2 L388.05 174.2 L388.3 174.2 L388.55 174.2 L388.8 174.2 L389.05 174.2 L389.3 174.2 L389.55 174.2 L389.8 174.2 L390.06 174.2 L390.31 174.2 L390.56 174.2 L390.81 174.2 L391.06 174.2 L391.31 174.2 L391.56 174.2 L391.81 174.2 L392.06 174.2 L392.31 174.2 L392.56 174.2 L392.81 174.2 L393.06 174.2 L393.31 174.2 L393.56 174.2 L393.81 174.2 L394.06 174.2 L394.31 174.2 L394.57 174.2 L394.82 174.2 L395.07 174.2 L395.32 174.2 L395.57 174.2 L395.82 174.2 L396.07 174.2 L396.32 174.2 L396.57 174.2 L396.82 174.2 L397.07 174.2 L397.32 174.2 L397.57 174.2 L397.82 174.2 L398.07 174.2 L398.32 174.2 L398.57 174.2 L398.82 174.2 L399.08 174.2 L399.33 174.2 L399.58 174.2 L399.83 174.2 L400.08 174.2 L400.33 174.2 L400.58 174.2 L400.83 174.2 L401.08 174.2 L401.33 174.2 L401.58 174.2 L401.83 174.2 L402.08 174.2 L402.33 174.2 L402.58 174.2 L402.83 174.2 L403.08 174.2 L403.34 174.19 L403.59 174.19 L403.84 174.19 L404.09 174.18 L404.34 174.18 L404.59 174.17 L404.84 174.16 L405.09 174.15 L405.34 174.14 L405.59 174.12 L405.84 174.1 L406.09 174.07 L406.34 174.04 L406.59 174 L406.84 173.95 L407.09 173.9 L407.34 173.83 L407.59 173.75 L407.85 173.65 L408.1 173.54 L408.35 173.4 L408.6 173.23 L408.85 173.04 L409.1 172.81 L409.35 172.55 L409.6 172.27 L409.85 171.96 L410.1 171.64 L410.35 171.32 L410.6 171.02 L410.85 170.77 L411.1 170.57 L411.35 170.44 L411.6 170.4 L411.85 170.44 L412.1 170.57 L412.36 170.76 L412.61 170.97 L412.86 171.12 L413.11 171.06 L413.36 170.51 L413.61 169.17 L413.86 166.92 L414.11 164.04 L414.36 161.34 L414.61 159.87 L414.86 160.33 L415.11 162.59 L415.36 165.8 L415.61 168.93 L415.86 171.29 L416.11 172.75 L416.36 173.51 L416.62 173.85 L416.87 174 L417.12 174.06 L417.37 174.1 L417.62 174.12 L417.87 174.14 L418.12 174.15 L418.37 174.16 L418.62 174.17 L418.87 174.18 L419.12 174.18 L419.37 174.19 L419.62 174.19 L419.87 174.19 L420.12 174.2 L420.37 174.2 L420.62 174.2 L420.87 174.2 L421.13 174.2 L421.38 174.2 L421.63 174.2 L421.88 174.2 L422.13 174.2 L422.38 174.2 L422.63 174.2 L422.88 174.2 L423.13 174.2 L423.38 174.2 L423.63 174.2 L423.88 174.2 L424.13 174.2 L424.38 174.2 L424.63 174.2 L424.88 174.2 L425.13 174.2 L425.38 174.2 L425.64 174.2 L425.89 174.2 L426.14 174.2 L426.39 174.2 L426.64 174.2 L426.89 174.2 L427.14 174.2 L427.39 174.2 L427.64 174.2 L427.89 174.2 L428.14 174.2 L428.39 174.2 L428.64 174.2 L428.89 174.2 L429.14 174.2 L429.39 174.2 L429.64 174.2 L429.9 174.2 L430.15 174.2 L430.4 174.2 L430.65 174.2 L430.9 174.2 L431.15 174.2 L431.4 174.2 L431.65 174.2 L431.9 174.2 L432.15 174.2 L432.4 174.2 L432.65 174.2 L432.9 174.2 L433.15 174.2 L433.4 174.2 L433.65 174.2 L433.9 174.2 L434.15 174.2 L434.41 174.2 L434.66 174.2 L434.91 174.2 L435.16 174.2 L435.41 174.2 L435.66 174.2 L435.91 174.2 L436.16 174.2 L436.41 174.2 L436.66 174.2 L436.91 174.2 L437.16 174.2 L437.41 174.2 L437.66 174.2 L437.91 174.2 L438.16 174.2 L438.41 174.2 L438.66 174.2 L438.92 174.2 L439.17 174.2 L439.42 174.2 L439.67 174.2 L439.92 174.2 L440.17 174.2 L440.42 174.2 L440.67 174.2 L440.92 174.2 L441.17 174.2 L441.42 174.2 L441.67 174.2 L441.92 174.2 L442.17 174.2 L442.42 174.2 L442.67 174.2 L442.92 174.2 L443.18 174.2 L443.43 174.2 L443.68 174.2 L443.93 174.2 L444.18 174.2 L444.43 174.2 L444.68 174.2 L444.93 174.2 L445.18 174.2 L445.43 174.2 L445.68 174.2 L445.93 174.2 L446.18 174.2 L446.43 174.2 L446.68 174.2 L446.93 174.2 L447.18 174.2 L447.43 174.2 L447.69 174.2 L447.94 174.2 L448.19 174.2 L448.44 174.2 L448.69 174.2 L448.94 174.2 L449.19 174.2 L449.44 174.2 L449.69 174.2 L449.94 174.2 L450.19 174.2 L450.44 174.2 L450.69 174.2 L450.94 174.2 L451.19 174.2 L451.44 174.2 L451.69 174.2 L451.94 174.2 L452.2 174.2 L452.45 174.2 L452.7 174.2 L452.95 174.2 L453.2 174.2 L453.45 174.2 L453.7 174.2 L453.95 174.2 L454.2 174.2" stroke="#f08223" stroke-width="1.85" fill="none" stroke-linejoin="round" stroke-linecap="butt"/>
<path d="M457.9 63.4 H464.1 V174.2 H457.9" stroke="#b2b2b6" stroke-width="1.6" fill="none" />
<line x1="457.9" y1="120.7" x2="463.3" y2="120.7" stroke="#85858a" stroke-width="1.7" />
<text x="467.3" y="95.05" font-size="6.7" stroke="#939393" stroke-width="0.05" fill="#939393">10<tspan font-size="4" dy="-2.3">-15</tspan></text>
<text x="467.3" y="150.45" font-size="6.7" stroke="#939393" stroke-width="0.05" fill="#939393">10<tspan font-size="4" dy="-2.3">-12</tspan></text>
<line x1="388.2" y1="182.7" x2="454" y2="182.7" stroke="#000" stroke-width="1.8" />
<line x1="392.4" y1="182.7" x2="392.4" y2="180.5" stroke="#000" stroke-width="0.9" />
<text x="392.4" y="191.9" font-size="7" stroke="#111" stroke-width="0.14" text-anchor="middle" fill="#111">12</text>
<line x1="401.05" y1="182.7" x2="401.05" y2="181.4" stroke="#000" stroke-width="0.9" />
<line x1="409.7" y1="182.7" x2="409.7" y2="180.5" stroke="#000" stroke-width="0.9" />
<text x="409.7" y="191.9" font-size="7" stroke="#111" stroke-width="0.14" text-anchor="middle" fill="#111">13</text>
<line x1="418.3" y1="182.7" x2="418.3" y2="181.4" stroke="#000" stroke-width="0.9" />
<line x1="426.9" y1="182.7" x2="426.9" y2="180.5" stroke="#000" stroke-width="0.9" />
<text x="426.9" y="191.9" font-size="7" stroke="#111" stroke-width="0.14" text-anchor="middle" fill="#111">14</text>
<line x1="435.45" y1="182.7" x2="435.45" y2="181.4" stroke="#000" stroke-width="0.9" />
<line x1="444" y1="182.7" x2="444" y2="180.5" stroke="#000" stroke-width="0.9" />
<text x="444" y="191.9" font-size="7" stroke="#111" stroke-width="0.14" text-anchor="middle" fill="#111">15</text>
<path d="M498.2 62.8 L498.45 62.8 L498.7 62.8 L498.95 62.8 L499.2 62.8 L499.45 62.8 L499.7 62.8 L499.95 62.8 L500.2 62.8 L500.45 62.8 L500.7 62.8 L500.95 62.8 L501.2 62.8 L501.45 62.8 L501.7 62.8 L501.95 62.8 L502.2 62.8 L502.45 62.8 L502.7 62.8 L502.95 62.8 L503.2 62.8 L503.45 62.8 L503.7 62.8 L503.95 62.8 L504.2 62.8 L504.45 62.8 L504.7 62.8 L504.95 62.8 L505.2 62.8 L505.45 62.8 L505.7 62.8 L505.95 62.8 L506.2 62.8 L506.45 62.8 L506.7 62.8 L506.95 62.8 L507.2 62.8 L507.45 62.8 L507.7 62.8 L507.95 62.8 L508.2 62.8 L508.45 62.8 L508.7 62.8 L508.95 62.8 L509.2 62.8 L509.45 62.8 L509.7 62.8 L509.95 62.8 L510.2 62.8 L510.45 62.8 L510.7 62.8 L510.95 62.8 L511.2 62.8 L511.45 62.8 L511.7 62.8 L511.95 62.8 L512.2 62.8 L512.45 62.8 L512.7 62.8 L512.95 62.8 L513.2 62.8 L513.45 62.8 L513.7 62.8 L513.95 62.8 L514.2 62.8 L514.45 62.8 L514.7 62.8 L514.95 62.8 L515.2 62.8 L515.45 62.8 L515.7 62.8 L515.95 62.8 L516.2 62.8 L516.45 62.8 L516.7 62.8 L516.95 62.8 L517.2 62.8 L517.45 62.8 L517.7 62.8 L517.95 62.8 L518.2 62.8 L518.45 62.8 L518.7 62.8 L518.95 62.8 L519.2 62.8 L519.45 62.8 L519.7 62.8 L519.95 62.8 L520.2 62.8 L520.45 62.8 L520.7 62.8 L520.95 62.8 L521.2 62.8 L521.45 62.8 L521.7 62.8 L521.95 62.8 L522.2 62.8 L522.45 62.8 L522.7 62.8 L522.95 62.8 L523.2 62.8 L523.45 62.8 L523.7 62.8 L523.95 62.8 L524.2 62.8 L524.45 62.8 L524.7 62.8 L524.95 62.8 L525.2 62.8 L525.45 62.8 L525.7 62.8 L525.95 62.8 L526.2 62.8 L526.45 62.8 L526.7 62.8 L526.95 62.8 L527.2 62.8 L527.45 62.79 L527.7 62.78 L527.95 62.75 L528.2 62.69 L528.45 62.57 L528.7 62.39 L528.95 62.18 L529.2 61.99 L529.45 61.9 L529.7 61.94 L529.95 62.1 L530.2 62.31 L530.45 62.5 L530.7 62.65 L530.95 62.73 L531.2 62.77 L531.45 62.79 L531.7 62.8 L531.95 62.8 L532.2 62.8 L532.45 62.8 L532.7 62.8 L532.95 62.8 L533.2 62.8 L533.45 62.8 L533.7 62.8 L533.95 62.8 L534.2 62.8 L534.45 62.8 L534.7 62.8 L534.95 62.8 L535.2 62.8 L535.45 62.8 L535.7 62.8 L535.95 62.8 L536.2 62.8 L536.45 62.8 L536.7 62.8 L536.95 62.8 L537.2 62.8 L537.45 62.8 L537.7 62.8 L537.95 62.8 L538.2 62.8 L538.45 62.8 L538.7 62.8 L538.95 62.8 L539.2 62.8 L539.45 62.8 L539.7 62.8 L539.95 62.8 L540.2 62.8 L540.45 62.8 L540.7 62.8 L540.95 62.8 L541.2 62.8 L541.45 62.8 L541.7 62.8 L541.95 62.8 L542.2 62.8 L542.45 62.8 L542.7 62.8 L542.95 62.8 L543.2 62.8 L543.45 62.8 L543.7 62.8 L543.95 62.8 L544.2 62.8 L544.45 62.8 L544.7 62.8 L544.95 62.8 L545.2 62.8 L545.45 62.8 L545.7 62.8 L545.95 62.8 L546.2 62.8 L546.45 62.8 L546.7 62.8 L546.95 62.8 L547.2 62.8 L547.45 62.8 L547.7 62.8 L547.95 62.8 L548.2 62.8 L548.45 62.8 L548.7 62.8 L548.95 62.8 L549.2 62.8 L549.45 62.8 L549.7 62.8 L549.95 62.8 L550.2 62.8 L550.45 62.8 L550.7 62.8 L550.95 62.8 L551.2 62.8 L551.45 62.8 L551.7 62.8 L551.95 62.8 L552.2 62.8 L552.45 62.8 L552.7 62.8 L552.95 62.8 L553.2 62.8 L553.45 62.8 L553.7 62.8 L553.95 62.8 L554.2 62.8 L554.45 62.8 L554.7 62.8 L554.95 62.8 L555.2 62.8 L555.45 62.8 L555.7 62.8 L555.95 62.8 L556.2 62.8 L556.45 62.8 L556.7 62.8 L556.95 62.8 L557.2 62.8 L557.45 62.8 L557.7 62.8 L557.95 62.8 L558.2 62.8 L558.45 62.8 L558.7 62.8 L558.95 62.8 L559.2 62.8 L559.45 62.8 L559.7 62.8 L559.95 62.8 L560.2 62.8" stroke="#000" stroke-width="2" fill="none" stroke-linejoin="round" stroke-linecap="butt"/>
<path d="M498.2 120.9 L498.45 120.9 L498.7 120.9 L498.95 120.9 L499.2 120.9 L499.45 120.9 L499.7 120.9 L499.95 120.9 L500.2 120.9 L500.45 120.9 L500.7 120.9 L500.95 120.9 L501.2 120.9 L501.45 120.9 L501.7 120.9 L501.95 120.9 L502.2 120.9 L502.45 120.9 L502.7 120.9 L502.95 120.9 L503.2 120.9 L503.45 120.9 L503.7 120.9 L503.95 120.9 L504.2 120.9 L504.45 120.9 L504.7 120.9 L504.95 120.9 L505.2 120.9 L505.45 120.9 L505.7 120.9 L505.95 120.9 L506.2 120.9 L506.45 120.9 L506.7 120.9 L506.95 120.9 L507.2 120.9 L507.45 120.9 L507.7 120.9 L507.95 120.9 L508.2 120.9 L508.45 120.9 L508.7 120.9 L508.95 120.9 L509.2 120.9 L509.45 120.9 L509.7 120.9 L509.95 120.9 L510.2 120.9 L510.45 120.9 L510.7 120.9 L510.95 120.9 L511.2 120.9 L511.45 120.9 L511.7 120.9 L511.95 120.9 L512.2 120.9 L512.45 120.9 L512.7 120.9 L512.95 120.9 L513.2 120.9 L513.45 120.9 L513.7 120.9 L513.95 120.9 L514.2 120.9 L514.45 120.9 L514.7 120.9 L514.95 120.9 L515.2 120.9 L515.45 120.9 L515.7 120.9 L515.95 120.9 L516.2 120.9 L516.45 120.9 L516.7 120.9 L516.95 120.9 L517.2 120.9 L517.45 120.9 L517.7 120.9 L517.95 120.9 L518.2 120.9 L518.45 120.9 L518.7 120.9 L518.95 120.9 L519.2 120.9 L519.45 120.9 L519.7 120.9 L519.95 120.9 L520.2 120.9 L520.45 120.9 L520.7 120.9 L520.95 120.9 L521.2 120.9 L521.45 120.9 L521.7 120.9 L521.95 120.9 L522.2 120.9 L522.45 120.9 L522.7 120.9 L522.95 120.89 L523.2 120.89 L523.45 120.89 L523.7 120.88 L523.95 120.86 L524.2 120.84 L524.45 120.82 L524.7 120.78 L524.95 120.72 L525.2 120.64 L525.45 120.54 L525.7 120.41 L525.95 120.24 L526.2 120.03 L526.45 119.78 L526.7 119.47 L526.95 119.1 L527.2 118.63 L527.45 118.01 L527.7 117.16 L527.95 115.94 L528.2 114.27 L528.45 112.11 L528.7 109.63 L528.95 107.19 L529.2 105.3 L529.45 104.43 L529.7 104.81 L529.95 106.34 L530.2 108.62 L530.45 111.14 L530.7 113.46 L530.95 115.33 L531.2 116.72 L531.45 117.71 L531.7 118.41 L531.95 118.92 L532.2 119.33 L532.45 119.66 L532.7 119.94 L532.95 120.16 L533.2 120.35 L533.45 120.49 L533.7 120.61 L533.95 120.69 L534.2 120.76 L534.45 120.8 L534.7 120.83 L534.95 120.86 L535.2 120.87 L535.45 120.88 L535.7 120.89 L535.95 120.89 L536.2 120.9 L536.45 120.9 L536.7 120.9 L536.95 120.9 L537.2 120.9 L537.45 120.9 L537.7 120.9 L537.95 120.9 L538.2 120.9 L538.45 120.9 L538.7 120.9 L538.95 120.9 L539.2 120.9 L539.45 120.9 L539.7 120.9 L539.95 120.9 L540.2 120.9 L540.45 120.9 L540.7 120.9 L540.95 120.9 L541.2 120.9 L541.45 120.9 L541.7 120.9 L541.95 120.9 L542.2 120.9 L542.45 120.9 L542.7 120.9 L542.95 120.9 L543.2 120.9 L543.45 120.9 L543.7 120.9 L543.95 120.9 L544.2 120.9 L544.45 120.9 L544.7 120.9 L544.95 120.9 L545.2 120.9 L545.45 120.9 L545.7 120.9 L545.95 120.9 L546.2 120.9 L546.45 120.9 L546.7 120.9 L546.95 120.9 L547.2 120.9 L547.45 120.9 L547.7 120.9 L547.95 120.9 L548.2 120.9 L548.45 120.9 L548.7 120.9 L548.95 120.9 L549.2 120.9 L549.45 120.9 L549.7 120.9 L549.95 120.9 L550.2 120.9 L550.45 120.9 L550.7 120.9 L550.95 120.9 L551.2 120.9 L551.45 120.9 L551.7 120.9 L551.95 120.9 L552.2 120.9 L552.45 120.9 L552.7 120.9 L552.95 120.9 L553.2 120.9 L553.45 120.9 L553.7 120.9 L553.95 120.9 L554.2 120.9 L554.45 120.9 L554.7 120.9 L554.95 120.9 L555.2 120.9 L555.45 120.9 L555.7 120.9 L555.95 120.9 L556.2 120.9 L556.45 120.9 L556.7 120.9 L556.95 120.9 L557.2 120.9 L557.45 120.9 L557.7 120.9 L557.95 120.9 L558.2 120.9 L558.45 120.9 L558.7 120.9 L558.95 120.9 L559.2 120.9 L559.45 120.9 L559.7 120.9 L559.95 120.9 L560.2 120.9" stroke="#e41e26" stroke-width="1.85" fill="none" stroke-linejoin="round" stroke-linecap="butt"/>
<path d="M498.2 174.7 L498.45 174.7 L498.7 174.7 L498.95 174.7 L499.2 174.7 L499.45 174.7 L499.7 174.7 L499.95 174.7 L500.2 174.7 L500.45 174.7 L500.7 174.7 L500.95 174.7 L501.2 174.7 L501.45 174.7 L501.7 174.7 L501.95 174.7 L502.2 174.7 L502.45 174.7 L502.7 174.7 L502.95 174.7 L503.2 174.7 L503.45 174.7 L503.7 174.7 L503.95 174.7 L504.2 174.7 L504.45 174.7 L504.7 174.7 L504.95 174.7 L505.2 174.7 L505.45 174.7 L505.7 174.7 L505.95 174.7 L506.2 174.7 L506.45 174.7 L506.7 174.7 L506.95 174.7 L507.2 174.7 L507.45 174.7 L507.7 174.7 L507.95 174.7 L508.2 174.7 L508.45 174.7 L508.7 174.7 L508.95 174.7 L509.2 174.7 L509.45 174.7 L509.7 174.7 L509.95 174.7 L510.2 174.7 L510.45 174.7 L510.7 174.7 L510.95 174.7 L511.2 174.7 L511.45 174.7 L511.7 174.7 L511.95 174.7 L512.2 174.7 L512.45 174.7 L512.7 174.7 L512.95 174.7 L513.2 174.7 L513.45 174.7 L513.7 174.7 L513.95 174.7 L514.2 174.7 L514.45 174.7 L514.7 174.7 L514.95 174.7 L515.2 174.7 L515.45 174.7 L515.7 174.7 L515.95 174.7 L516.2 174.7 L516.45 174.7 L516.7 174.7 L516.95 174.7 L517.2 174.7 L517.45 174.7 L517.7 174.7 L517.95 174.7 L518.2 174.7 L518.45 174.7 L518.7 174.7 L518.95 174.7 L519.2 174.7 L519.45 174.7 L519.7 174.7 L519.95 174.7 L520.2 174.7 L520.45 174.7 L520.7 174.7 L520.95 174.7 L521.2 174.7 L521.45 174.7 L521.7 174.7 L521.95 174.7 L522.2 174.7 L522.45 174.7 L522.7 174.7 L522.95 174.7 L523.2 174.69 L523.45 174.69 L523.7 174.68 L523.95 174.68 L524.2 174.66 L524.45 174.64 L524.7 174.62 L524.95 174.58 L525.2 174.53 L525.45 174.46 L525.7 174.37 L525.95 174.26 L526.2 174.12 L526.45 173.95 L526.7 173.75 L526.95 173.5 L527.2 173.19 L527.45 172.78 L527.7 172.21 L527.95 171.4 L528.2 170.28 L528.45 168.84 L528.7 167.18 L528.95 165.56 L529.2 164.3 L529.45 163.72 L529.7 163.97 L529.95 164.99 L530.2 166.51 L530.45 168.19 L530.7 169.74 L530.95 170.99 L531.2 171.92 L531.45 172.57 L531.7 173.04 L531.95 173.38 L532.2 173.65 L532.45 173.87 L532.7 174.06 L532.95 174.21 L533.2 174.33 L533.45 174.43 L533.7 174.5 L533.95 174.56 L534.2 174.6 L534.45 174.63 L534.7 174.66 L534.95 174.67 L535.2 174.68 L535.45 174.69 L535.7 174.69 L535.95 174.7 L536.2 174.7 L536.45 174.7 L536.7 174.7 L536.95 174.7 L537.2 174.7 L537.45 174.7 L537.7 174.7 L537.95 174.7 L538.2 174.7 L538.45 174.7 L538.7 174.7 L538.95 174.7 L539.2 174.7 L539.45 174.7 L539.7 174.7 L539.95 174.7 L540.2 174.7 L540.45 174.7 L540.7 174.7 L540.95 174.7 L541.2 174.7 L541.45 174.7 L541.7 174.7 L541.95 174.7 L542.2 174.7 L542.45 174.7 L542.7 174.7 L542.95 174.7 L543.2 174.7 L543.45 174.7 L543.7 174.7 L543.95 174.7 L544.2 174.7 L544.45 174.7 L544.7 174.7 L544.95 174.7 L545.2 174.7 L545.45 174.7 L545.7 174.7 L545.95 174.7 L546.2 174.7 L546.45 174.7 L546.7 174.7 L546.95 174.7 L547.2 174.7 L547.45 174.7 L547.7 174.7 L547.95 174.7 L548.2 174.7 L548.45 174.7 L548.7 174.7 L548.95 174.7 L549.2 174.7 L549.45 174.7 L549.7 174.7 L549.95 174.7 L550.2 174.7 L550.45 174.7 L550.7 174.7 L550.95 174.7 L551.2 174.7 L551.45 174.7 L551.7 174.7 L551.95 174.7 L552.2 174.7 L552.45 174.7 L552.7 174.7 L552.95 174.7 L553.2 174.7 L553.45 174.7 L553.7 174.7 L553.95 174.7 L554.2 174.7 L554.45 174.7 L554.7 174.7 L554.95 174.7 L555.2 174.7 L555.45 174.7 L555.7 174.7 L555.95 174.7 L556.2 174.7 L556.45 174.7 L556.7 174.7 L556.95 174.7 L557.2 174.7 L557.45 174.7 L557.7 174.7 L557.95 174.7 L558.2 174.7 L558.45 174.7 L558.7 174.7 L558.95 174.7 L559.2 174.7 L559.45 174.7 L559.7 174.7 L559.95 174.7 L560.2 174.7" stroke="#f08223" stroke-width="1.85" fill="none" stroke-linejoin="round" stroke-linecap="butt"/>
<path d="M563 62.8 H569.2 V174.7 H563" stroke="#b2b2b6" stroke-width="1.6" fill="none" />
<line x1="563" y1="120.9" x2="568.4" y2="120.9" stroke="#85858a" stroke-width="1.7" />
<text x="572.4" y="94.85" font-size="6.7" stroke="#939393" stroke-width="0.05" fill="#939393">10<tspan font-size="4" dy="-2.3">-14</tspan></text>
<text x="572.4" y="150.8" font-size="6.7" stroke="#939393" stroke-width="0.05" fill="#939393">10<tspan font-size="4" dy="-2.3">-9</tspan></text>
<line x1="494.1" y1="182.1" x2="559.8" y2="182.1" stroke="#000" stroke-width="1.8" />
<line x1="499.5" y1="182.1" x2="499.5" y2="179.9" stroke="#000" stroke-width="0.9" />
<text x="499.5" y="191.5" font-size="7" stroke="#111" stroke-width="0.14" text-anchor="middle" fill="#111">13</text>
<line x1="508.2" y1="182.1" x2="508.2" y2="180.8" stroke="#000" stroke-width="0.9" />
<line x1="516.9" y1="182.1" x2="516.9" y2="179.9" stroke="#000" stroke-width="0.9" />
<text x="516.9" y="191.5" font-size="7" stroke="#111" stroke-width="0.14" text-anchor="middle" fill="#111">14</text>
<line x1="525.55" y1="182.1" x2="525.55" y2="180.8" stroke="#000" stroke-width="0.9" />
<line x1="534.2" y1="182.1" x2="534.2" y2="179.9" stroke="#000" stroke-width="0.9" />
<text x="534.2" y="191.5" font-size="7" stroke="#111" stroke-width="0.14" text-anchor="middle" fill="#111">15</text>
<line x1="542.75" y1="182.1" x2="542.75" y2="180.8" stroke="#000" stroke-width="0.9" />
<line x1="551.3" y1="182.1" x2="551.3" y2="179.9" stroke="#000" stroke-width="0.9" />
<text x="551.3" y="191.5" font-size="7" stroke="#111" stroke-width="0.14" text-anchor="middle" fill="#111">16</text>
<path d="M615.2 63.7 L615.45 63.7 L615.7 63.7 L615.95 63.7 L616.2 63.7 L616.45 63.7 L616.7 63.7 L616.95 63.7 L617.2 63.7 L617.45 63.7 L617.7 63.7 L617.95 63.7 L618.2 63.7 L618.45 63.7 L618.7 63.7 L618.95 63.7 L619.2 63.7 L619.45 63.7 L619.7 63.7 L619.95 63.7 L620.2 63.7 L620.45 63.7 L620.7 63.7 L620.95 63.7 L621.2 63.7 L621.45 63.7 L621.7 63.7 L621.95 63.7 L622.2 63.7 L622.45 63.7 L622.7 63.7 L622.95 63.7 L623.2 63.7 L623.45 63.7 L623.7 63.7 L623.95 63.7 L624.2 63.7 L624.45 63.7 L624.7 63.7 L624.95 63.7 L625.2 63.7 L625.45 63.7 L625.7 63.7 L625.95 63.7 L626.2 63.7 L626.45 63.7 L626.7 63.7 L626.95 63.7 L627.2 63.7 L627.45 63.7 L627.7 63.7 L627.95 63.7 L628.2 63.7 L628.45 63.7 L628.7 63.7 L628.95 63.7 L629.2 63.7 L629.45 63.7 L629.7 63.7 L629.95 63.7 L630.2 63.7 L630.45 63.7 L630.7 63.7 L630.95 63.7 L631.2 63.7 L631.45 63.7 L631.7 63.7 L631.95 63.7 L632.2 63.7 L632.45 63.7 L632.7 63.7 L632.95 63.7 L633.2 63.7 L633.45 63.7 L633.7 63.7 L633.95 63.7 L634.2 63.7 L634.45 63.7 L634.7 63.7 L634.95 63.7 L635.2 63.7 L635.45 63.7 L635.7 63.7 L635.95 63.7 L636.2 63.7 L636.45 63.7 L636.7 63.7 L636.95 63.7 L637.2 63.7 L637.45 63.7 L637.7 63.7 L637.95 63.7 L638.2 63.7 L638.45 63.7 L638.7 63.7 L638.95 63.7 L639.2 63.7 L639.45 63.7 L639.7 63.7 L639.95 63.7 L640.2 63.7 L640.45 63.7 L640.7 63.7 L640.95 63.7 L641.2 63.7 L641.45 63.7 L641.7 63.7 L641.95 63.7 L642.2 63.7 L642.45 63.7 L642.7 63.7 L642.95 63.7 L643.2 63.7 L643.45 63.7 L643.7 63.7 L643.95 63.7 L644.2 63.7 L644.45 63.7 L644.7 63.7 L644.95 63.7 L645.2 63.7 L645.45 63.7 L645.7 63.7 L645.95 63.7 L646.2 63.7 L646.45 63.7 L646.7 63.7 L646.95 63.7 L647.2 63.7 L647.45 63.7 L647.7 63.7 L647.95 63.7 L648.2 63.7 L648.45 63.7 L648.7 63.7 L648.95 63.7 L649.2 63.7 L649.45 63.7 L649.7 63.7 L649.95 63.7 L650.2 63.7 L650.45 63.7 L650.7 63.7 L650.95 63.7 L651.2 63.7 L651.45 63.7 L651.7 63.7 L651.95 63.7 L652.2 63.7 L652.45 63.7 L652.7 63.7 L652.95 63.7 L653.2 63.7 L653.45 63.7 L653.7 63.7 L653.95 63.7 L654.2 63.7 L654.45 63.7 L654.7 63.7 L654.95 63.7 L655.2 63.7 L655.45 63.7 L655.7 63.7 L655.95 63.7 L656.2 63.7 L656.45 63.7 L656.7 63.7 L656.95 63.7 L657.2 63.7 L657.45 63.7 L657.7 63.7 L657.95 63.7 L658.2 63.7" stroke="#000" stroke-width="2" fill="none" stroke-linejoin="round" stroke-linecap="butt"/>
<path d="M615.2 121.6 L615.45 121.6 L615.7 121.6 L615.95 121.6 L616.2 121.6 L616.45 121.6 L616.7 121.6 L616.95 121.6 L617.2 121.6 L617.45 121.6 L617.7 121.6 L617.95 121.6 L618.2 121.6 L618.45 121.6 L618.7 121.6 L618.95 121.6 L619.2 121.6 L619.45 121.6 L619.7 121.6 L619.95 121.6 L620.2 121.6 L620.45 121.6 L620.7 121.6 L620.95 121.6 L621.2 121.6 L621.45 121.6 L621.7 121.6 L621.95 121.6 L622.2 121.6 L622.45 121.6 L622.7 121.6 L622.95 121.6 L623.2 121.6 L623.45 121.6 L623.7 121.6 L623.95 121.6 L624.2 121.6 L624.45 121.6 L624.7 121.6 L624.95 121.6 L625.2 121.6 L625.45 121.6 L625.7 121.6 L625.95 121.6 L626.2 121.6 L626.45 121.6 L626.7 121.6 L626.95 121.6 L627.2 121.6 L627.45 121.6 L627.7 121.6 L627.95 121.6 L628.2 121.6 L628.45 121.6 L628.7 121.6 L628.95 121.59 L629.2 121.59 L629.45 121.58 L629.7 121.57 L629.95 121.56 L630.2 121.54 L630.45 121.51 L630.7 121.48 L630.95 121.43 L631.2 121.38 L631.45 121.3 L631.7 121.2 L631.95 121.05 L632.2 120.81 L632.45 120.43 L632.7 119.87 L632.95 119.13 L633.2 118.33 L633.45 117.63 L633.7 117.24 L633.95 117.28 L634.2 117.75 L634.45 118.49 L634.7 119.29 L634.95 119.99 L635.2 120.52 L635.45 120.87 L635.7 121.09 L635.95 121.23 L636.2 121.32 L636.45 121.39 L636.7 121.44 L636.95 121.49 L637.2 121.52 L637.45 121.54 L637.7 121.56 L637.95 121.57 L638.2 121.58 L638.45 121.59 L638.7 121.59 L638.95 121.6 L639.2 121.6 L639.45 121.6 L639.7 121.6 L639.95 121.6 L640.2 121.6 L640.45 121.6 L640.7 121.6 L640.95 121.6 L641.2 121.6 L641.45 121.6 L641.7 121.6 L641.95 121.6 L642.2 121.6 L642.45 121.6 L642.7 121.6 L642.95 121.6 L643.2 121.6 L643.45 121.6 L643.7 121.6 L643.95 121.6 L644.2 121.6 L644.45 121.6 L644.7 121.6 L644.95 121.6 L645.2 121.6 L645.45 121.6 L645.7 121.6 L645.95 121.6 L646.2 121.6 L646.45 121.6 L646.7 121.6 L646.95 121.6 L647.2 121.6 L647.45 121.6 L647.7 121.6 L647.95 121.6 L648.2 121.6 L648.45 121.6 L648.7 121.6 L648.95 121.6 L649.2 121.6 L649.45 121.6 L649.7 121.6 L649.95 121.6 L650.2 121.6 L650.45 121.6 L650.7 121.6 L650.95 121.6 L651.2 121.6 L651.45 121.6 L651.7 121.6 L651.95 121.6 L652.2 121.6 L652.45 121.6 L652.7 121.6 L652.95 121.6 L653.2 121.6 L653.45 121.6 L653.7 121.6 L653.95 121.6 L654.2 121.6 L654.45 121.6 L654.7 121.6 L654.95 121.6 L655.2 121.6 L655.45 121.6 L655.7 121.6 L655.95 121.6 L656.2 121.6 L656.45 121.6 L656.7 121.6 L656.95 121.6 L657.2 121.6 L657.45 121.6 L657.7 121.6 L657.95 121.6 L658.2 121.6" stroke="#e41e26" stroke-width="1.85" fill="none" stroke-linejoin="round" stroke-linecap="butt"/>
<path d="M615.2 174.9 L615.45 174.9 L615.7 174.9 L615.95 174.9 L616.2 174.9 L616.45 174.9 L616.7 174.9 L616.95 174.9 L617.2 174.9 L617.45 174.9 L617.7 174.9 L617.95 174.9 L618.2 174.9 L618.45 174.9 L618.7 174.9 L618.95 174.9 L619.2 174.9 L619.45 174.9 L619.7 174.9 L619.95 174.9 L620.2 174.9 L620.45 174.9 L620.7 174.9 L620.95 174.9 L621.2 174.9 L621.45 174.9 L621.7 174.9 L621.95 174.9 L622.2 174.9 L622.45 174.9 L622.7 174.9 L622.95 174.9 L623.2 174.9 L623.45 174.9 L623.7 174.9 L623.95 174.9 L624.2 174.9 L624.45 174.9 L624.7 174.9 L624.95 174.9 L625.2 174.9 L625.45 174.9 L625.7 174.9 L625.95 174.9 L626.2 174.9 L626.45 174.9 L626.7 174.9 L626.95 174.9 L627.2 174.9 L627.45 174.9 L627.7 174.9 L627.95 174.9 L628.2 174.9 L628.45 174.9 L628.7 174.9 L628.95 174.9 L629.2 174.9 L629.45 174.89 L629.7 174.89 L629.95 174.88 L630.2 174.87 L630.45 174.86 L630.7 174.84 L630.95 174.82 L631.2 174.79 L631.45 174.75 L631.7 174.69 L631.95 174.6 L632.2 174.45 L632.45 174.21 L632.7 173.85 L632.95 173.39 L633.2 172.95 L633.45 172.65 L633.7 172.62 L633.95 172.87 L634.2 173.3 L634.45 173.76 L634.7 174.15 L634.95 174.41 L635.2 174.58 L635.45 174.68 L635.7 174.74 L635.95 174.78 L636.2 174.81 L636.45 174.84 L636.7 174.86 L636.95 174.87 L637.2 174.88 L637.45 174.89 L637.7 174.89 L637.95 174.9 L638.2 174.9 L638.45 174.9 L638.7 174.9 L638.95 174.9 L639.2 174.9 L639.45 174.9 L639.7 174.9 L639.95 174.9 L640.2 174.9 L640.45 174.9 L640.7 174.9 L640.95 174.9 L641.2 174.9 L641.45 174.9 L641.7 174.9 L641.95 174.9 L642.2 174.9 L642.45 174.9 L642.7 174.9 L642.95 174.9 L643.2 174.9 L643.45 174.9 L643.7 174.9 L643.95 174.9 L644.2 174.9 L644.45 174.9 L644.7 174.9 L644.95 174.9 L645.2 174.9 L645.45 174.9 L645.7 174.9 L645.95 174.9 L646.2 174.9 L646.45 174.9 L646.7 174.9 L646.95 174.9 L647.2 174.9 L647.45 174.9 L647.7 174.9 L647.95 174.9 L648.2 174.9 L648.45 174.9 L648.7 174.9 L648.95 174.9 L649.2 174.9 L649.45 174.9 L649.7 174.9 L649.95 174.9 L650.2 174.9 L650.45 174.9 L650.7 174.9 L650.95 174.9 L651.2 174.9 L651.45 174.9 L651.7 174.9 L651.95 174.9 L652.2 174.9 L652.45 174.9 L652.7 174.9 L652.95 174.9 L653.2 174.9 L653.45 174.9 L653.7 174.9 L653.95 174.9 L654.2 174.9 L654.45 174.9 L654.7 174.9 L654.95 174.9 L655.2 174.9 L655.45 174.9 L655.7 174.9 L655.95 174.9 L656.2 174.9 L656.45 174.9 L656.7 174.9 L656.95 174.9 L657.2 174.9 L657.45 174.9 L657.7 174.9 L657.95 174.9 L658.2 174.9" stroke="#f08223" stroke-width="1.85" fill="none" stroke-linejoin="round" stroke-linecap="butt"/>
<path d="M662.9 63.7 H669.1 V174.9 H662.9" stroke="#b2b2b6" stroke-width="1.6" fill="none" />
<line x1="662.9" y1="121.6" x2="668.3" y2="121.6" stroke="#85858a" stroke-width="1.7" />
<text x="672.3" y="95.65" font-size="6.7" stroke="#939393" stroke-width="0.05" fill="#939393">10<tspan font-size="4" dy="-2.3">-9</tspan></text>
<text x="672.3" y="151.25" font-size="6.7" stroke="#939393" stroke-width="0.05" fill="#939393">10<tspan font-size="4" dy="-2.3">-4</tspan></text>
<line x1="605.8" y1="182.4" x2="671.8" y2="182.4" stroke="#000" stroke-width="1.8" />
<line x1="607.2" y1="182.4" x2="607.2" y2="180.2" stroke="#000" stroke-width="0.9" />
<text x="607.2" y="191.6" font-size="7" stroke="#111" stroke-width="0.14" text-anchor="middle" fill="#111">6</text>
<line x1="617.5" y1="182.4" x2="617.5" y2="181.1" stroke="#000" stroke-width="0.9" />
<line x1="627.8" y1="182.4" x2="627.8" y2="180.2" stroke="#000" stroke-width="0.9" />
<text x="627.8" y="191.6" font-size="7" stroke="#111" stroke-width="0.14" text-anchor="middle" fill="#111">7</text>
<line x1="636.4" y1="182.4" x2="636.4" y2="181.1" stroke="#000" stroke-width="0.9" />
<line x1="645" y1="182.4" x2="645" y2="180.2" stroke="#000" stroke-width="0.9" />
<text x="645" y="191.6" font-size="7" stroke="#111" stroke-width="0.14" text-anchor="middle" fill="#111">8</text>
<line x1="652.3" y1="182.4" x2="652.3" y2="181.1" stroke="#000" stroke-width="0.9" />
<line x1="659.6" y1="182.4" x2="659.6" y2="180.2" stroke="#000" stroke-width="0.9" />
<text x="661.4" y="191.6" font-size="7" stroke="#111" stroke-width="0.14" text-anchor="middle" fill="#111">9</text>
<text x="445" y="217.9" font-size="8.7" stroke="#111" stroke-width="0.14" fill="#111" textLength="78" lengthAdjust="spacingAndGlyphs">Retention time (min)</text>
<text transform="translate(284.5,62.6) rotate(-46)" font-size="6.6" fill="#222" stroke="#222" stroke-width="0.04" text-anchor="end">WT</text>
<text transform="translate(283.6,114.8) rotate(-50)" font-size="6.8" fill="#e8333b" stroke="#e8333b" stroke-width="0.04" text-anchor="end">&#916;glpQ1</text>
<text transform="translate(283.6,167.4) rotate(-49)" font-size="6.75" fill="#f26b3a" stroke="#f26b3a" stroke-width="0.04" text-anchor="end">&#916;glpQ1::glpQ1_Pimyc</text>
<text x="287.2" y="40.5" font-size="4.6" text-anchor="middle" fill="#111" font-weight="bold">HO</text>
<path d="M290.6 37.4 L295.3 34.9 L301 38.2 L307.1 34.9 L311.4 37.4" stroke="#111" stroke-width="0.55" fill="none" stroke-linejoin="round"/>
<text x="312.8" y="40.5" font-size="4.6" text-anchor="middle" fill="#111" font-weight="bold">O</text>
<path d="M314.3 37.6 L317.9 35.6" stroke="#111" stroke-width="0.55" fill="none" stroke-linejoin="round"/>
<text x="319.4" y="36.7" font-size="4.6" text-anchor="middle" fill="#111" font-weight="bold">P</text>
<path d="M318.9 32.6 L318.9 30.4" stroke="#111" stroke-width="0.55" fill="none" stroke-linejoin="round"/>
<path d="M319.9 32.6 L319.9 30.4" stroke="#111" stroke-width="0.55" fill="none" stroke-linejoin="round"/>
<text x="319.4" y="30" font-size="4.6" text-anchor="middle" fill="#111" font-weight="bold">O</text>
<path d="M319.6 37.2 L320.4 39.6" stroke="#111" stroke-width="0.55" fill="none" stroke-linejoin="round"/>
<text x="321.6" y="44.5" font-size="4.6" text-anchor="middle" fill="#111" font-weight="bold">OH</text>
<path d="M320.9 35.6 L324.2 37.6" stroke="#111" stroke-width="0.55" fill="none" stroke-linejoin="round"/>
<text x="325.7" y="40.2" font-size="4.6" text-anchor="middle" fill="#111" font-weight="bold">O</text>
<path d="M327.1 37.4 L331.1 34.9 L336.7 38.2 L340 36.2" stroke="#111" stroke-width="0.55" fill="none" stroke-linejoin="round"/>
<text x="344" y="38" font-size="4.6" text-anchor="middle" fill="#111" font-weight="bold">NH<tspan font-size="3" dy="1">2</tspan></text>
<line x1="300.2" y1="39.3" x2="301.8" y2="39.3" stroke="#111" stroke-width="0.45" />
<line x1="300.05" y1="40.4" x2="301.95" y2="40.4" stroke="#111" stroke-width="0.45" />
<line x1="299.9" y1="41.5" x2="302.1" y2="41.5" stroke="#111" stroke-width="0.45" />
<line x1="299.75" y1="42.6" x2="302.25" y2="42.6" stroke="#111" stroke-width="0.45" />
<text x="302" y="48" font-size="4.6" text-anchor="middle" fill="#111" font-weight="bold">OH</text>
<text x="386.4" y="39.7" font-size="4.6" text-anchor="middle" fill="#111" font-weight="bold">HO</text>
<path d="M389.9 36.6 L394.6 34.6 L401 38.1 L407.4 34.6 L411.9 37" stroke="#111" stroke-width="0.55" fill="none" stroke-linejoin="round"/>
<text x="413.3" y="39.7" font-size="4.6" text-anchor="middle" fill="#111" font-weight="bold">O</text>
<path d="M414.7 37 L418.3 35" stroke="#111" stroke-width="0.55" fill="none" stroke-linejoin="round"/>
<text x="419.7" y="36.2" font-size="4.6" text-anchor="middle" fill="#111" font-weight="bold">P</text>
<path d="M419.2 32.3 L419.2 29.8" stroke="#111" stroke-width="0.55" fill="none" stroke-linejoin="round"/>
<path d="M420.2 32.3 L420.2 29.8" stroke="#111" stroke-width="0.55" fill="none" stroke-linejoin="round"/>
<text x="419.7" y="29.4" font-size="4.6" text-anchor="middle" fill="#111" font-weight="bold">O</text>
<path d="M420 36.6 L420.8 38.8" stroke="#111" stroke-width="0.55" fill="none" stroke-linejoin="round"/>
<text x="421.5" y="43.3" font-size="4.6" text-anchor="middle" fill="#111" font-weight="bold">OH</text>
<path d="M421.2 35 L423.7 36.6" stroke="#111" stroke-width="0.55" fill="none" stroke-linejoin="round"/>
<text x="425.1" y="39.2" font-size="4.6" text-anchor="middle" fill="#111" font-weight="bold">O</text>
<path d="M426.6 36.4 L431.4 34.6 L437.8 37.6 L444.2 34.6 L449.2 37" stroke="#111" stroke-width="0.55" fill="none" stroke-linejoin="round"/>
<text x="452.6" y="39.7" font-size="4.6" text-anchor="middle" fill="#111" font-weight="bold">OH</text>
<line x1="400.2" y1="39.2" x2="401.8" y2="39.2" stroke="#111" stroke-width="0.45" />
<line x1="400.05" y1="40.3" x2="401.95" y2="40.3" stroke="#111" stroke-width="0.45" />
<line x1="399.9" y1="41.4" x2="402.1" y2="41.4" stroke="#111" stroke-width="0.45" />
<line x1="399.75" y1="42.5" x2="402.25" y2="42.5" stroke="#111" stroke-width="0.45" />
<text x="402.6" y="46.8" font-size="4.6" text-anchor="middle" fill="#111" font-weight="bold">OH</text>
<path d="M437.8 38.2 L437.0 42.6 L438.8 42.6 Z" stroke="#111" stroke-width="0.3" fill="#111" />
<text x="439.2" y="46.8" font-size="4.6" text-anchor="middle" fill="#111" font-weight="bold">OH</text>
<text x="487.8" y="42.6" font-size="4.6" text-anchor="middle" fill="#111" font-weight="bold">HO</text>
<path d="M491.6 39.5 L495.5 37.2 L501.7 41 L508.5 37.2 L511.6 39.8" stroke="#111" stroke-width="0.55" fill="none" stroke-linejoin="round"/>
<text x="512.9" y="42.6" font-size="4.6" text-anchor="middle" fill="#111" font-weight="bold">O</text>
<path d="M514.3 39.8 L517.7 37.6" stroke="#111" stroke-width="0.55" fill="none" stroke-linejoin="round"/>
<text x="519.1" y="38.5" font-size="4.6" text-anchor="middle" fill="#111" font-weight="bold">P</text>
<path d="M518.6 34.6 L518.8 32.2" stroke="#111" stroke-width="0.55" fill="none" stroke-linejoin="round"/>
<path d="M519.6 34.6 L519.8 32.2" stroke="#111" stroke-width="0.55" fill="none" stroke-linejoin="round"/>
<text x="519.7" y="32" font-size="4.6" text-anchor="middle" fill="#111" font-weight="bold">O</text>
<path d="M519.5 38.8 L520.4 41" stroke="#111" stroke-width="0.55" fill="none" stroke-linejoin="round"/>
<text x="521.6" y="45.8" font-size="4.6" text-anchor="middle" fill="#111" font-weight="bold">OH</text>
<path d="M520.6 37.8 L524.4 39.6" stroke="#111" stroke-width="0.55" fill="none" stroke-linejoin="round"/>
<text x="525.9" y="42.2" font-size="4.6" text-anchor="middle" fill="#111" font-weight="bold">O</text>
<line x1="500.9" y1="42.2" x2="502.5" y2="42.2" stroke="#111" stroke-width="0.45" />
<line x1="500.75" y1="43.3" x2="502.65" y2="43.3" stroke="#111" stroke-width="0.45" />
<line x1="500.6" y1="44.4" x2="502.8" y2="44.4" stroke="#111" stroke-width="0.45" />
<line x1="500.45" y1="45.5" x2="502.95" y2="45.5" stroke="#111" stroke-width="0.45" />
<text x="503" y="49.6" font-size="4.6" text-anchor="middle" fill="#111" font-weight="bold">OH</text>
<path d="M532.8 36.3 L538.4 35.1 L545.4 36.3 L548 31.1 L541.3 32.5 L535.1 30.8 L532.8 36.3" stroke="#111" stroke-width="0.55" fill="none" stroke-linejoin="round"/>
<path d="M527.2 39.4 L532.8 36.3" stroke="#111" stroke-width="0.55" fill="none" stroke-linejoin="round"/>
<path d="M530.6 33 L535.1 30.8" stroke="#111" stroke-width="0.55" fill="none" stroke-linejoin="round"/>
<path d="M538.4 35.1 L538.4 29.6" stroke="#111" stroke-width="0.55" fill="none" stroke-linejoin="round"/>
<path d="M541.3 32.5 L543.4 28.8" stroke="#111" stroke-width="0.55" fill="none" stroke-linejoin="round"/>
<path d="M548 31.1 L552.4 32" stroke="#111" stroke-width="0.55" fill="none" stroke-linejoin="round"/>
<path d="M545.4 36.3 L547.9 38.9" stroke="#111" stroke-width="0.55" fill="none" stroke-linejoin="round"/>
<text x="526.6" y="36.2" font-size="4.6" text-anchor="middle" fill="#111" font-weight="bold">HO</text>
<text x="538.8" y="29.4" font-size="4.6" text-anchor="middle" fill="#111" font-weight="bold">OH</text>
<text x="547" y="28.3" font-size="4.6" text-anchor="middle" fill="#111" font-weight="bold">OH</text>
<text x="556.4" y="34.2" font-size="4.6" text-anchor="middle" fill="#111" font-weight="bold">OH</text>
<text x="550.6" y="42.5" font-size="4.6" text-anchor="middle" fill="#111" font-weight="bold">OH</text>
<text x="578.2" y="38.9" font-size="4.6" text-anchor="middle" fill="#111" font-weight="bold">HO</text>
<path d="M581.4 36 L585.2 34.8 L591.8 37.3 L597.6 34.8 L601.2 36.6" stroke="#111" stroke-width="0.55" fill="none" stroke-linejoin="round"/>
<text x="602.5" y="38.9" font-size="4.6" text-anchor="middle" fill="#111" font-weight="bold">O</text>
<path d="M603.8 36.4 L607.7 34" stroke="#111" stroke-width="0.55" fill="none" stroke-linejoin="round"/>
<text x="609.1" y="34.8" font-size="4.6" text-anchor="middle" fill="#111" font-weight="bold">P</text>
<path d="M608.6 30.9 L608.6 28.8" stroke="#111" stroke-width="0.55" fill="none" stroke-linejoin="round"/>
<path d="M609.6 30.9 L609.6 28.8" stroke="#111" stroke-width="0.55" fill="none" stroke-linejoin="round"/>
<text x="609.1" y="28.5" font-size="4.6" text-anchor="middle" fill="#111" font-weight="bold">O</text>
<path d="M609.4 35 L610.1 37.2" stroke="#111" stroke-width="0.55" fill="none" stroke-linejoin="round"/>
<text x="610.8" y="42.2" font-size="4.6" text-anchor="middle" fill="#111" font-weight="bold">OH</text>
<path d="M610.5 34 L614.3 36.4" stroke="#111" stroke-width="0.55" fill="none" stroke-linejoin="round"/>
<text x="615.7" y="38.9" font-size="4.6" text-anchor="middle" fill="#111" font-weight="bold">O</text>
<path d="M617 36.4 L621.5 34.8 L628.1 37.3 L634.7 34.8 L640 36.6" stroke="#111" stroke-width="0.55" fill="none" stroke-linejoin="round"/>
<text x="641.3" y="38.9" font-size="4.6" text-anchor="middle" fill="#111" font-weight="bold">O</text>
<path d="M642.6 36.4 L645.7 34" stroke="#111" stroke-width="0.55" fill="none" stroke-linejoin="round"/>
<text x="647.1" y="34.8" font-size="4.6" text-anchor="middle" fill="#111" font-weight="bold">P</text>
<path d="M646.6 30.9 L646.6 28.8" stroke="#111" stroke-width="0.55" fill="none" stroke-linejoin="round"/>
<path d="M647.6 30.9 L647.6 28.8" stroke="#111" stroke-width="0.55" fill="none" stroke-linejoin="round"/>
<text x="647.1" y="28.5" font-size="4.6" text-anchor="middle" fill="#111" font-weight="bold">O</text>
<path d="M647.4 35 L647.9 37.2" stroke="#111" stroke-width="0.55" fill="none" stroke-linejoin="round"/>
<text x="648.2" y="42.2" font-size="4.6" text-anchor="middle" fill="#111" font-weight="bold">OH</text>
<path d="M648.5 34 L652.3 36.4" stroke="#111" stroke-width="0.55" fill="none" stroke-linejoin="round"/>
<text x="653.7" y="38.9" font-size="4.6" text-anchor="middle" fill="#111" font-weight="bold">O</text>
<path d="M655 36.4 L659.5 34.8 L666.9 37.3 L674.3 34.8 L677.6 36.4" stroke="#111" stroke-width="0.55" fill="none" stroke-linejoin="round"/>
<text x="680.9" y="38.9" font-size="4.6" text-anchor="middle" fill="#111" font-weight="bold">OH</text>
<path d="M591.8 38.3 L591.0 42.0 L592.8 42.0 Z" stroke="#111" stroke-width="0.3" fill="#111" />
<text x="592.6" y="46.3" font-size="4.6" text-anchor="middle" fill="#111" font-weight="bold">OH</text>
<line x1="627.3" y1="38.4" x2="628.9" y2="38.4" stroke="#111" stroke-width="0.45" />
<line x1="627.15" y1="39.4" x2="629.05" y2="39.4" stroke="#111" stroke-width="0.45" />
<line x1="627" y1="40.4" x2="629.2" y2="40.4" stroke="#111" stroke-width="0.45" />
<line x1="626.85" y1="41.4" x2="629.35" y2="41.4" stroke="#111" stroke-width="0.45" />
<text x="631.4" y="46.3" font-size="4.6" text-anchor="middle" fill="#111" font-weight="bold">OH</text>
<path d="M666.9 38.3 L666.1 42.0 L667.9 42.0 Z" stroke="#111" stroke-width="0.3" fill="#111" />
<text x="669.4" y="46.3" font-size="4.6" text-anchor="middle" fill="#111" font-weight="bold">OH</text>
<line x1="43.1" y1="341.6" x2="307.5" y2="341.6" stroke="#000" stroke-width="1.1" stroke-dasharray="2.6 2.2"/>
<rect x="49.65" y="342.35" width="10.5" height="82.65" fill="#000" stroke="#000" stroke-width="1.5"/>
<line x1="54.9" y1="341.6" x2="54.9" y2="331" stroke="#111" stroke-width="0.9" />
<line x1="52.4" y1="331" x2="57.4" y2="331" stroke="#111" stroke-width="1" />
<circle cx="54.9" cy="328.2" r="1.2" fill="#fff" stroke="#555" stroke-width="0.55"/>
<circle cx="56.7" cy="338.4" r="1.2" fill="#fff" stroke="#555" stroke-width="0.55"/>
<circle cx="53.7" cy="339.6" r="1.2" fill="#fff" stroke="#555" stroke-width="0.55"/>
<circle cx="54.9" cy="344.3" r="1.2" fill="#fff" stroke="#555" stroke-width="0.55"/>
<circle cx="54.9" cy="356.3" r="1.2" fill="#fff" stroke="#555" stroke-width="0.55"/>
<rect x="64.1" y="326.15" width="10.5" height="98.85" fill="#ff0000" stroke="#000" stroke-width="1.5"/>
<line x1="69.35" y1="325.4" x2="69.35" y2="318.4" stroke="#111" stroke-width="0.9" />
<line x1="66.85" y1="318.4" x2="71.85" y2="318.4" stroke="#111" stroke-width="1" />
<line x1="69.35" y1="326.9" x2="69.35" y2="333.2" stroke="#000" stroke-width="0.9" />
<line x1="66.85" y1="333.2" x2="71.85" y2="333.2" stroke="#000" stroke-width="1" />
<circle cx="65.25" cy="318.7" r="1.2" fill="#fff" stroke="#555" stroke-width="0.55"/>
<circle cx="69.35" cy="318.7" r="1.2" fill="#fff" stroke="#555" stroke-width="0.55"/>
<circle cx="74.05" cy="318.7" r="1.2" fill="#fff" stroke="#555" stroke-width="0.55"/>
<circle cx="69.35" cy="323.8" r="1.2" fill="#fff" stroke="#555" stroke-width="0.55"/>
<circle cx="69.35" cy="331" r="1.2" fill="#fff" stroke="#555" stroke-width="0.55"/>
<circle cx="69.35" cy="338.6" r="1.2" fill="#fff" stroke="#555" stroke-width="0.55"/>
<rect x="78.55" y="322.65" width="10.5" height="102.35" fill="#ff8000" stroke="#000" stroke-width="1.5"/>
<line x1="83.8" y1="321.9" x2="83.8" y2="314.8" stroke="#111" stroke-width="0.9" />
<line x1="81.3" y1="314.8" x2="86.3" y2="314.8" stroke="#111" stroke-width="1" />
<line x1="83.8" y1="323.4" x2="83.8" y2="328.2" stroke="#000" stroke-width="0.9" />
<line x1="81.3" y1="328.2" x2="86.3" y2="328.2" stroke="#000" stroke-width="1" />
<circle cx="83.8" cy="313.6" r="1.2" fill="#fff" stroke="#555" stroke-width="0.55"/>
<circle cx="83.8" cy="318.1" r="1.2" fill="#fff" stroke="#555" stroke-width="0.55"/>
<circle cx="81.8" cy="327.6" r="1.2" fill="#fff" stroke="#555" stroke-width="0.55"/>
<circle cx="85.3" cy="326.5" r="1.2" fill="#fff" stroke="#555" stroke-width="0.55"/>
<path d="M52.8 302.5 V296.1 H68.5 V302.5" stroke="#7c7c7c" stroke-width="1.1" fill="none" />
<text x="49.9" y="293.1" font-size="7" stroke="#222" stroke-width="0.14" fill="#222" textLength="24.9" lengthAdjust="spacingAndGlyphs">p=0.014</text>
<text x="70.65" y="437.7" font-size="8" stroke="#111" stroke-width="0.14" text-anchor="middle" fill="#111" font-weight="bold">PE</text>
<rect x="102.85" y="342.35" width="10.5" height="82.65" fill="#000" stroke="#000" stroke-width="1.5"/>
<line x1="108.1" y1="341.6" x2="108.1" y2="328" stroke="#111" stroke-width="0.9" />
<line x1="105.6" y1="328" x2="110.6" y2="328" stroke="#111" stroke-width="1" />
<circle cx="108.1" cy="323.1" r="1.2" fill="#fff" stroke="#555" stroke-width="0.55"/>
<circle cx="108.1" cy="332" r="1.2" fill="#fff" stroke="#555" stroke-width="0.55"/>
<circle cx="106.2" cy="348.2" r="1.2" fill="#fff" stroke="#555" stroke-width="0.55"/>
<circle cx="110.1" cy="349.5" r="1.2" fill="#fff" stroke="#555" stroke-width="0.55"/>
<circle cx="107.9" cy="356" r="1.2" fill="#fff" stroke="#555" stroke-width="0.55"/>
<rect x="117.3" y="368.05" width="10.5" height="56.95" fill="#ff0000" stroke="#000" stroke-width="1.5"/>
<line x1="122.55" y1="367.3" x2="122.55" y2="360.4" stroke="#111" stroke-width="0.9" />
<line x1="120.05" y1="360.4" x2="125.05" y2="360.4" stroke="#111" stroke-width="1" />
<line x1="122.55" y1="368.8" x2="122.55" y2="372" stroke="#000" stroke-width="0.9" />
<line x1="120.05" y1="372" x2="125.05" y2="372" stroke="#000" stroke-width="1" />
<circle cx="121.05" cy="360.6" r="1.2" fill="#fff" stroke="#555" stroke-width="0.55"/>
<circle cx="124.05" cy="360.6" r="1.2" fill="#fff" stroke="#555" stroke-width="0.55"/>
<circle cx="122.55" cy="362.5" r="1.2" fill="#fff" stroke="#555" stroke-width="0.55"/>
<circle cx="122.55" cy="371" r="1.2" fill="#fff" stroke="#555" stroke-width="0.55"/>
<circle cx="122.55" cy="375" r="1.2" fill="#fff" stroke="#555" stroke-width="0.55"/>
<rect x="131.75" y="347.45" width="10.5" height="77.55" fill="#ff8000" stroke="#000" stroke-width="1.5"/>
<line x1="137" y1="346.7" x2="137" y2="335.6" stroke="#111" stroke-width="0.9" />
<line x1="134.5" y1="335.6" x2="139.5" y2="335.6" stroke="#111" stroke-width="1" />
<line x1="137" y1="348.2" x2="137" y2="357" stroke="#000" stroke-width="0.9" />
<line x1="134.5" y1="357" x2="139.5" y2="357" stroke="#000" stroke-width="1" />
<circle cx="135.5" cy="337.4" r="1.2" fill="#fff" stroke="#555" stroke-width="0.55"/>
<circle cx="138.5" cy="337.4" r="1.2" fill="#fff" stroke="#555" stroke-width="0.55"/>
<circle cx="135" cy="357.2" r="1.2" fill="#fff" stroke="#555" stroke-width="0.55"/>
<circle cx="139" cy="355.6" r="1.2" fill="#fff" stroke="#555" stroke-width="0.55"/>
<path d="M106 302.5 V296.1 H121.7 V302.5" stroke="#7c7c7c" stroke-width="1.1" fill="none" />
<text x="102.8" y="293.1" font-size="7" stroke="#222" stroke-width="0.14" fill="#222" textLength="28.5" lengthAdjust="spacingAndGlyphs">p=0.0033</text>
<text x="123.65" y="437.7" font-size="8" stroke="#111" stroke-width="0.14" text-anchor="middle" fill="#111" font-weight="bold">PG</text>
<rect x="156.05" y="342.35" width="10.5" height="82.65" fill="#000" stroke="#000" stroke-width="1.5"/>
<line x1="161.3" y1="341.6" x2="161.3" y2="329.4" stroke="#111" stroke-width="0.9" />
<line x1="158.8" y1="329.4" x2="163.8" y2="329.4" stroke="#111" stroke-width="1" />
<circle cx="161.3" cy="323.3" r="1.2" fill="#fff" stroke="#555" stroke-width="0.55"/>
<circle cx="161.3" cy="338.5" r="1.2" fill="#fff" stroke="#555" stroke-width="0.55"/>
<circle cx="161.3" cy="343.8" r="1.2" fill="#fff" stroke="#555" stroke-width="0.55"/>
<circle cx="161.3" cy="346.9" r="1.2" fill="#fff" stroke="#555" stroke-width="0.55"/>
<circle cx="161.3" cy="356.3" r="1.2" fill="#fff" stroke="#555" stroke-width="0.55"/>
<rect x="170.5" y="374.35" width="10.5" height="50.65" fill="#ff0000" stroke="#000" stroke-width="1.5"/>
<line x1="175.75" y1="373.6" x2="175.75" y2="368.9" stroke="#111" stroke-width="0.9" />
<line x1="173.25" y1="368.9" x2="178.25" y2="368.9" stroke="#111" stroke-width="1" />
<line x1="175.75" y1="375.1" x2="175.75" y2="378" stroke="#000" stroke-width="0.9" />
<line x1="173.25" y1="378" x2="178.25" y2="378" stroke="#000" stroke-width="1" />
<circle cx="175.75" cy="368.9" r="1.2" fill="#fff" stroke="#555" stroke-width="0.55"/>
<circle cx="174.25" cy="370.8" r="1.2" fill="#fff" stroke="#555" stroke-width="0.55"/>
<circle cx="177.25" cy="370.8" r="1.2" fill="#fff" stroke="#555" stroke-width="0.55"/>
<circle cx="175.75" cy="376.5" r="1.2" fill="#fff" stroke="#555" stroke-width="0.55"/>
<circle cx="175.75" cy="380.3" r="1.2" fill="#fff" stroke="#555" stroke-width="0.55"/>
<rect x="184.95" y="338.25" width="10.5" height="86.75" fill="#ff8000" stroke="#000" stroke-width="1.5"/>
<line x1="190.2" y1="337.5" x2="190.2" y2="331" stroke="#111" stroke-width="0.9" />
<line x1="187.7" y1="331" x2="192.7" y2="331" stroke="#111" stroke-width="1" />
<line x1="190.2" y1="339" x2="190.2" y2="341" stroke="#000" stroke-width="0.9" />
<line x1="187.7" y1="341" x2="192.7" y2="341" stroke="#000" stroke-width="1" />
<circle cx="188.7" cy="334" r="1.2" fill="#fff" stroke="#555" stroke-width="0.55"/>
<circle cx="191.7" cy="334" r="1.2" fill="#fff" stroke="#555" stroke-width="0.55"/>
<circle cx="190.2" cy="339" r="1.2" fill="#fff" stroke="#555" stroke-width="0.55"/>
<circle cx="190.2" cy="343.5" r="1.2" fill="#fff" stroke="#555" stroke-width="0.55"/>
<path d="M159.2 302.5 V296.1 H174.9 V302.5" stroke="#7c7c7c" stroke-width="1.1" fill="none" />
<text x="150.2" y="293.1" font-size="7" stroke="#222" stroke-width="0.14" fill="#222" textLength="32.9" lengthAdjust="spacingAndGlyphs">p=0.00022</text>
<text x="176.35" y="437.7" font-size="8" stroke="#111" stroke-width="0.14" text-anchor="middle" fill="#111" font-weight="bold">PI</text>
<rect x="209.25" y="342.35" width="10.5" height="82.65" fill="#000" stroke="#000" stroke-width="1.5"/>
<line x1="214.5" y1="341.6" x2="214.5" y2="329.4" stroke="#111" stroke-width="0.9" />
<line x1="212" y1="329.4" x2="217" y2="329.4" stroke="#111" stroke-width="1" />
<circle cx="214.5" cy="322.6" r="1.2" fill="#fff" stroke="#555" stroke-width="0.55"/>
<circle cx="214.5" cy="337.2" r="1.2" fill="#fff" stroke="#555" stroke-width="0.55"/>
<circle cx="214.5" cy="343.4" r="1.2" fill="#fff" stroke="#555" stroke-width="0.55"/>
<circle cx="214.5" cy="350" r="1.2" fill="#fff" stroke="#555" stroke-width="0.55"/>
<circle cx="214.5" cy="355" r="1.2" fill="#fff" stroke="#555" stroke-width="0.55"/>
<rect x="223.7" y="321.25" width="10.5" height="103.75" fill="#ff0000" stroke="#000" stroke-width="1.5"/>
<line x1="228.95" y1="320.5" x2="228.95" y2="313.1" stroke="#111" stroke-width="0.9" />
<line x1="226.45" y1="313.1" x2="231.45" y2="313.1" stroke="#111" stroke-width="1" />
<line x1="228.95" y1="322" x2="228.95" y2="327.6" stroke="#000" stroke-width="0.9" />
<line x1="226.45" y1="327.6" x2="231.45" y2="327.6" stroke="#000" stroke-width="1" />
<circle cx="228.95" cy="309.8" r="1.2" fill="#fff" stroke="#555" stroke-width="0.55"/>
<circle cx="226.55" cy="319.9" r="1.2" fill="#fff" stroke="#555" stroke-width="0.55"/>
<circle cx="231.05" cy="319.9" r="1.2" fill="#fff" stroke="#555" stroke-width="0.55"/>
<circle cx="228.95" cy="323.8" r="1.2" fill="#fff" stroke="#555" stroke-width="0.55"/>
<circle cx="228.95" cy="332.2" r="1.2" fill="#fff" stroke="#555" stroke-width="0.55"/>
<rect x="238.15" y="325.45" width="10.5" height="99.55" fill="#ff8000" stroke="#000" stroke-width="1.5"/>
<line x1="243.4" y1="324.7" x2="243.4" y2="319.1" stroke="#111" stroke-width="0.9" />
<line x1="240.9" y1="319.1" x2="245.9" y2="319.1" stroke="#111" stroke-width="1" />
<line x1="243.4" y1="326.2" x2="243.4" y2="329.4" stroke="#000" stroke-width="0.9" />
<line x1="240.9" y1="329.4" x2="245.9" y2="329.4" stroke="#000" stroke-width="1" />
<circle cx="241.6" cy="322.3" r="1.2" fill="#fff" stroke="#555" stroke-width="0.55"/>
<circle cx="246.1" cy="322.3" r="1.2" fill="#fff" stroke="#555" stroke-width="0.55"/>
<circle cx="243.4" cy="331" r="1.2" fill="#fff" stroke="#555" stroke-width="0.55"/>
<path d="M212.4 302.5 V296.1 H228.1 V302.5" stroke="#7c7c7c" stroke-width="1.1" fill="none" />
<text x="208.8" y="293.1" font-size="7" stroke="#222" stroke-width="0.14" fill="#222" textLength="28.5" lengthAdjust="spacingAndGlyphs">p=0.0070</text>
<text x="229.5" y="437.7" font-size="8" stroke="#111" stroke-width="0.14" text-anchor="middle" fill="#111" font-weight="bold">CL</text>
<rect x="262.45" y="342.35" width="10.5" height="82.65" fill="#000" stroke="#000" stroke-width="1.5"/>
<line x1="267.7" y1="341.6" x2="267.7" y2="334.4" stroke="#111" stroke-width="0.9" />
<line x1="265.2" y1="334.4" x2="270.2" y2="334.4" stroke="#111" stroke-width="1" />
<circle cx="267.7" cy="333.8" r="1.2" fill="#fff" stroke="#555" stroke-width="0.55"/>
<circle cx="267.2" cy="337.2" r="1.2" fill="#fff" stroke="#555" stroke-width="0.55"/>
<circle cx="265.5" cy="339.8" r="1.2" fill="#fff" stroke="#555" stroke-width="0.55"/>
<circle cx="269.5" cy="342.2" r="1.2" fill="#fff" stroke="#555" stroke-width="0.55"/>
<circle cx="267.7" cy="354.1" r="1.2" fill="#fff" stroke="#555" stroke-width="0.55"/>
<rect x="276.9" y="329.55" width="10.5" height="95.45" fill="#ff0000" stroke="#000" stroke-width="1.5"/>
<line x1="282.15" y1="328.8" x2="282.15" y2="324.1" stroke="#111" stroke-width="0.9" />
<line x1="279.65" y1="324.1" x2="284.65" y2="324.1" stroke="#111" stroke-width="1" />
<line x1="282.15" y1="330.3" x2="282.15" y2="333.2" stroke="#000" stroke-width="0.9" />
<line x1="279.65" y1="333.2" x2="284.65" y2="333.2" stroke="#000" stroke-width="1" />
<circle cx="280.65" cy="323" r="1.2" fill="#fff" stroke="#555" stroke-width="0.55"/>
<circle cx="283.65" cy="323" r="1.2" fill="#fff" stroke="#555" stroke-width="0.55"/>
<circle cx="280.55" cy="329.3" r="1.2" fill="#fff" stroke="#555" stroke-width="0.55"/>
<circle cx="282.15" cy="331.8" r="1.2" fill="#fff" stroke="#555" stroke-width="0.55"/>
<circle cx="282.15" cy="335.3" r="1.2" fill="#fff" stroke="#555" stroke-width="0.55"/>
<rect x="291.35" y="341.95" width="10.5" height="83.05" fill="#ff8000" stroke="#000" stroke-width="1.5"/>
<line x1="296.6" y1="341.2" x2="296.6" y2="329.7" stroke="#111" stroke-width="0.9" />
<line x1="294.1" y1="329.7" x2="299.1" y2="329.7" stroke="#111" stroke-width="1" />
<line x1="296.6" y1="342.7" x2="296.6" y2="351.1" stroke="#000" stroke-width="0.9" />
<line x1="294.1" y1="351.1" x2="299.1" y2="351.1" stroke="#000" stroke-width="1" />
<circle cx="296.6" cy="324.5" r="1.2" fill="#fff" stroke="#555" stroke-width="0.55"/>
<circle cx="292.6" cy="346.4" r="1.2" fill="#fff" stroke="#555" stroke-width="0.55"/>
<circle cx="296.6" cy="344.9" r="1.2" fill="#fff" stroke="#555" stroke-width="0.55"/>
<circle cx="300.6" cy="345.5" r="1.2" fill="#fff" stroke="#555" stroke-width="0.55"/>
<path d="M265.6 302.5 V296.1 H281.3 V302.5" stroke="#7c7c7c" stroke-width="1.1" fill="none" />
<text x="258.6" y="293.1" font-size="7" stroke="#222" stroke-width="0.14" fill="#222" textLength="28.9" lengthAdjust="spacingAndGlyphs">p=0.0055</text>
<text x="282.5" y="437.7" font-size="8" stroke="#111" stroke-width="0.14" text-anchor="middle" fill="#111" font-weight="bold">PIM<tspan font-size="5" font-weight="normal" dy="1.8">2</tspan></text>
<line x1="43.1" y1="299" x2="43.1" y2="426" stroke="#000" stroke-width="1.9" />
<line x1="38.3" y1="425" x2="309.4" y2="425" stroke="#000" stroke-width="1.9" />
<line x1="38.3" y1="425" x2="43.1" y2="425" stroke="#000" stroke-width="1.3" />
<line x1="39.6" y1="416.66" x2="43.1" y2="416.66" stroke="#000" stroke-width="1.3" />
<line x1="39.6" y1="408.32" x2="43.1" y2="408.32" stroke="#000" stroke-width="1.3" />
<line x1="39.6" y1="399.98" x2="43.1" y2="399.98" stroke="#000" stroke-width="1.3" />
<line x1="39.6" y1="391.64" x2="43.1" y2="391.64" stroke="#000" stroke-width="1.3" />
<line x1="38.3" y1="383.3" x2="43.1" y2="383.3" stroke="#000" stroke-width="1.3" />
<line x1="39.6" y1="374.96" x2="43.1" y2="374.96" stroke="#000" stroke-width="1.3" />
<line x1="39.6" y1="366.62" x2="43.1" y2="366.62" stroke="#000" stroke-width="1.3" />
<line x1="39.6" y1="358.28" x2="43.1" y2="358.28" stroke="#000" stroke-width="1.3" />
<line x1="39.6" y1="349.94" x2="43.1" y2="349.94" stroke="#000" stroke-width="1.3" />
<line x1="38.3" y1="341.6" x2="43.1" y2="341.6" stroke="#000" stroke-width="1.3" />
<line x1="39.6" y1="333.26" x2="43.1" y2="333.26" stroke="#000" stroke-width="1.3" />
<line x1="39.6" y1="324.92" x2="43.1" y2="324.92" stroke="#000" stroke-width="1.3" />
<line x1="39.6" y1="316.58" x2="43.1" y2="316.58" stroke="#000" stroke-width="1.3" />
<line x1="39.6" y1="308.24" x2="43.1" y2="308.24" stroke="#000" stroke-width="1.3" />
<line x1="38.3" y1="299.9" x2="43.1" y2="299.9" stroke="#000" stroke-width="1.3" />
<text x="36.1" y="428.2" font-size="8" stroke="#222" stroke-width="0.14" text-anchor="end" fill="#222" textLength="10.3" lengthAdjust="spacingAndGlyphs">0.0</text>
<text x="36.1" y="386.5" font-size="8" stroke="#222" stroke-width="0.14" text-anchor="end" fill="#222" textLength="10.3" lengthAdjust="spacingAndGlyphs">0.5</text>
<text x="36.1" y="344.8" font-size="8" stroke="#222" stroke-width="0.14" text-anchor="end" fill="#222" textLength="10.3" lengthAdjust="spacingAndGlyphs">1.0</text>
<text x="36.1" y="303.1" font-size="8" stroke="#222" stroke-width="0.14" text-anchor="end" fill="#222" textLength="10.3" lengthAdjust="spacingAndGlyphs">1.5</text>
<text transform="translate(10.6,363.2) rotate(-90)" font-size="8.7" fill="#222" stroke="#222" stroke-width="0.14" text-anchor="middle">Abundance</text>
<text transform="translate(19.4,362.5) rotate(-90)" font-size="8.7" fill="#222" stroke="#222" stroke-width="0.14" text-anchor="middle">(relative to WT)</text>
<text x="176" y="458.4" font-size="8.7" stroke="#111" stroke-width="0.14" text-anchor="middle" fill="#111" textLength="42.4" lengthAdjust="spacingAndGlyphs">Lipid Class</text>
<line x1="383.9" y1="341.6" x2="648.9" y2="341.6" stroke="#000" stroke-width="1.1" stroke-dasharray="2.6 2.2"/>
<rect x="391.05" y="342.35" width="10.5" height="82.65" fill="#000" stroke="#000" stroke-width="1.5"/>
<line x1="396.3" y1="341.6" x2="396.3" y2="335.4" stroke="#111" stroke-width="0.9" />
<line x1="393.8" y1="335.4" x2="398.8" y2="335.4" stroke="#111" stroke-width="1" />
<circle cx="396.3" cy="332.4" r="1.2" fill="#fff" stroke="#555" stroke-width="0.55"/>
<circle cx="394" cy="340.8" r="1.2" fill="#fff" stroke="#555" stroke-width="0.55"/>
<circle cx="398.5" cy="340.8" r="1.2" fill="#fff" stroke="#555" stroke-width="0.55"/>
<circle cx="396.3" cy="345.6" r="1.2" fill="#fff" stroke="#555" stroke-width="0.55"/>
<circle cx="396.3" cy="349.9" r="1.2" fill="#fff" stroke="#555" stroke-width="0.55"/>
<rect x="405.5" y="340.15" width="10.5" height="84.85" fill="#ff0000" stroke="#000" stroke-width="1.5"/>
<line x1="410.75" y1="339.4" x2="410.75" y2="337.6" stroke="#111" stroke-width="0.9" />
<line x1="408.25" y1="337.6" x2="413.25" y2="337.6" stroke="#111" stroke-width="1" />
<circle cx="406.75" cy="337.8" r="1.2" fill="#fff" stroke="#555" stroke-width="0.55"/>
<circle cx="409.25" cy="337.5" r="1.2" fill="#fff" stroke="#555" stroke-width="0.55"/>
<circle cx="412.25" cy="337.5" r="1.2" fill="#fff" stroke="#555" stroke-width="0.55"/>
<circle cx="414.75" cy="337.8" r="1.2" fill="#fff" stroke="#555" stroke-width="0.55"/>
<circle cx="409.05" cy="341.9" r="1.2" fill="#fff" stroke="#555" stroke-width="0.55"/>
<circle cx="413.05" cy="341.9" r="1.2" fill="#fff" stroke="#555" stroke-width="0.55"/>
<rect x="419.95" y="333.15" width="10.5" height="91.85" fill="#ff8000" stroke="#000" stroke-width="1.5"/>
<line x1="425.2" y1="332.4" x2="425.2" y2="326.4" stroke="#111" stroke-width="0.9" />
<line x1="422.7" y1="326.4" x2="427.7" y2="326.4" stroke="#111" stroke-width="1" />
<line x1="425.2" y1="333.9" x2="425.2" y2="338" stroke="#000" stroke-width="0.9" />
<line x1="422.7" y1="338" x2="427.7" y2="338" stroke="#000" stroke-width="1" />
<circle cx="425.2" cy="324.2" r="1.2" fill="#fff" stroke="#555" stroke-width="0.55"/>
<circle cx="422.2" cy="330.2" r="1.2" fill="#fff" stroke="#555" stroke-width="0.55"/>
<circle cx="428.2" cy="330.2" r="1.2" fill="#fff" stroke="#555" stroke-width="0.55"/>
<circle cx="425.2" cy="335.1" r="1.2" fill="#fff" stroke="#555" stroke-width="0.55"/>
<circle cx="425.2" cy="340.2" r="1.2" fill="#fff" stroke="#555" stroke-width="0.55"/>
<path d="M396.1 302.5 V296.1 H411.5 V302.5" stroke="#7c7c7c" stroke-width="1.1" fill="none" />
<text x="392.2" y="293.1" font-size="7" stroke="#222" stroke-width="0.14" fill="#222" textLength="21.1" lengthAdjust="spacingAndGlyphs">p=0.41</text>
<text x="411.25" y="437.7" font-size="8" stroke="#111" stroke-width="0.14" text-anchor="middle" fill="#111" font-weight="bold">PE</text>
<rect x="444.25" y="342.35" width="10.5" height="82.65" fill="#000" stroke="#000" stroke-width="1.5"/>
<line x1="449.5" y1="341.6" x2="449.5" y2="336" stroke="#111" stroke-width="0.9" />
<line x1="447" y1="336" x2="452" y2="336" stroke="#111" stroke-width="1" />
<circle cx="448.5" cy="336.1" r="1.2" fill="#fff" stroke="#555" stroke-width="0.55"/>
<circle cx="450.5" cy="336.1" r="1.2" fill="#fff" stroke="#555" stroke-width="0.55"/>
<circle cx="449.5" cy="338" r="1.2" fill="#fff" stroke="#555" stroke-width="0.55"/>
<circle cx="449.5" cy="344.3" r="1.2" fill="#fff" stroke="#555" stroke-width="0.55"/>
<circle cx="449.5" cy="351.7" r="1.2" fill="#fff" stroke="#555" stroke-width="0.55"/>
<rect x="458.7" y="371.35" width="10.5" height="53.65" fill="#ff0000" stroke="#000" stroke-width="1.5"/>
<line x1="463.95" y1="370.6" x2="463.95" y2="368.2" stroke="#111" stroke-width="0.9" />
<line x1="461.45" y1="368.2" x2="466.45" y2="368.2" stroke="#111" stroke-width="1" />
<circle cx="460.95" cy="368" r="1.2" fill="#fff" stroke="#555" stroke-width="0.55"/>
<circle cx="462.95" cy="367.5" r="1.2" fill="#fff" stroke="#555" stroke-width="0.55"/>
<circle cx="464.95" cy="367.5" r="1.2" fill="#fff" stroke="#555" stroke-width="0.55"/>
<circle cx="466.95" cy="368" r="1.2" fill="#fff" stroke="#555" stroke-width="0.55"/>
<circle cx="463.95" cy="374.8" r="1.2" fill="#fff" stroke="#555" stroke-width="0.55"/>
<rect x="473.15" y="349.85" width="10.5" height="75.15" fill="#ff8000" stroke="#000" stroke-width="1.5"/>
<line x1="478.4" y1="349.1" x2="478.4" y2="346.2" stroke="#111" stroke-width="0.9" />
<line x1="475.9" y1="346.2" x2="480.9" y2="346.2" stroke="#111" stroke-width="1" />
<line x1="478.4" y1="350.6" x2="478.4" y2="352.4" stroke="#000" stroke-width="0.9" />
<line x1="475.9" y1="352.4" x2="480.9" y2="352.4" stroke="#000" stroke-width="1" />
<circle cx="474.9" cy="346.1" r="1.2" fill="#fff" stroke="#555" stroke-width="0.55"/>
<circle cx="477.2" cy="345.6" r="1.2" fill="#fff" stroke="#555" stroke-width="0.55"/>
<circle cx="479.6" cy="345.6" r="1.2" fill="#fff" stroke="#555" stroke-width="0.55"/>
<circle cx="481.9" cy="346.1" r="1.2" fill="#fff" stroke="#555" stroke-width="0.55"/>
<circle cx="478.4" cy="350.4" r="1.2" fill="#fff" stroke="#555" stroke-width="0.55"/>
<circle cx="478.4" cy="354.7" r="1.2" fill="#fff" stroke="#555" stroke-width="0.55"/>
<path d="M449.3 302.5 V296.1 H464.7 V302.5" stroke="#7c7c7c" stroke-width="1.1" fill="none" />
<text x="446.3" y="293.1" font-size="7" stroke="#222" stroke-width="0.14" fill="#222">p=1.0 x 10<tspan font-size="4.2" dy="-2.6">-6</tspan></text>
<text x="464" y="437.7" font-size="8" stroke="#111" stroke-width="0.14" text-anchor="middle" fill="#111" font-weight="bold">PG</text>
<rect x="497.45" y="342.35" width="10.5" height="82.65" fill="#000" stroke="#000" stroke-width="1.5"/>
<line x1="502.7" y1="341.6" x2="502.7" y2="323" stroke="#111" stroke-width="0.9" />
<line x1="500.2" y1="323" x2="505.2" y2="323" stroke="#111" stroke-width="1" />
<circle cx="502.7" cy="331.1" r="1.2" fill="#fff" stroke="#555" stroke-width="0.55"/>
<circle cx="502" cy="339.3" r="1.2" fill="#fff" stroke="#555" stroke-width="0.55"/>
<circle cx="505" cy="339.3" r="1.2" fill="#fff" stroke="#555" stroke-width="0.55"/>
<circle cx="502" cy="372.6" r="1.2" fill="#fff" stroke="#555" stroke-width="0.55"/>
<rect x="511.9" y="372.85" width="10.5" height="52.15" fill="#ff0000" stroke="#000" stroke-width="1.5"/>
<line x1="517.15" y1="372.1" x2="517.15" y2="369.8" stroke="#111" stroke-width="0.9" />
<line x1="514.65" y1="369.8" x2="519.65" y2="369.8" stroke="#111" stroke-width="1" />
<circle cx="517.15" cy="367.7" r="1.2" fill="#fff" stroke="#555" stroke-width="0.55"/>
<circle cx="513.05" cy="371.8" r="1.2" fill="#fff" stroke="#555" stroke-width="0.55"/>
<circle cx="521.05" cy="371.8" r="1.2" fill="#fff" stroke="#555" stroke-width="0.55"/>
<circle cx="517.15" cy="373.4" r="1.2" fill="#fff" stroke="#555" stroke-width="0.55"/>
<rect x="526.35" y="341.35" width="10.5" height="83.65" fill="#ff8000" stroke="#000" stroke-width="1.5"/>
<line x1="531.6" y1="340.6" x2="531.6" y2="335.5" stroke="#111" stroke-width="0.9" />
<line x1="529.1" y1="335.5" x2="534.1" y2="335.5" stroke="#111" stroke-width="1" />
<line x1="531.6" y1="342.1" x2="531.6" y2="344.1" stroke="#000" stroke-width="0.9" />
<line x1="529.1" y1="344.1" x2="534.1" y2="344.1" stroke="#000" stroke-width="1" />
<circle cx="531.6" cy="331.9" r="1.2" fill="#fff" stroke="#555" stroke-width="0.55"/>
<circle cx="527.6" cy="340.1" r="1.2" fill="#fff" stroke="#555" stroke-width="0.55"/>
<circle cx="535.1" cy="340.1" r="1.2" fill="#fff" stroke="#555" stroke-width="0.55"/>
<circle cx="531.6" cy="342.5" r="1.2" fill="#fff" stroke="#555" stroke-width="0.55"/>
<path d="M502.5 302.5 V296.1 H517.9 V302.5" stroke="#7c7c7c" stroke-width="1.1" fill="none" />
<text x="496.8" y="293.1" font-size="7" stroke="#222" stroke-width="0.14" fill="#222" textLength="28" lengthAdjust="spacingAndGlyphs">p=0.0071</text>
<text x="516.75" y="437.7" font-size="8" stroke="#111" stroke-width="0.14" text-anchor="middle" fill="#111" font-weight="bold">PI</text>
<rect x="550.65" y="342.35" width="10.5" height="82.65" fill="#000" stroke="#000" stroke-width="1.5"/>
<line x1="555.9" y1="341.6" x2="555.9" y2="334.3" stroke="#111" stroke-width="0.9" />
<line x1="553.4" y1="334.3" x2="558.4" y2="334.3" stroke="#111" stroke-width="1" />
<circle cx="555.9" cy="331.1" r="1.2" fill="#fff" stroke="#555" stroke-width="0.55"/>
<circle cx="555.9" cy="337.6" r="1.2" fill="#fff" stroke="#555" stroke-width="0.55"/>
<circle cx="552.5" cy="347" r="1.2" fill="#fff" stroke="#555" stroke-width="0.55"/>
<circle cx="555.9" cy="346.4" r="1.2" fill="#fff" stroke="#555" stroke-width="0.55"/>
<circle cx="559.5" cy="347" r="1.2" fill="#fff" stroke="#555" stroke-width="0.55"/>
<rect x="565.1" y="348.45" width="10.5" height="76.55" fill="#ff0000" stroke="#000" stroke-width="1.5"/>
<line x1="570.35" y1="347.7" x2="570.35" y2="340.8" stroke="#111" stroke-width="0.9" />
<line x1="567.85" y1="340.8" x2="572.85" y2="340.8" stroke="#111" stroke-width="1" />
<line x1="570.35" y1="349.2" x2="570.35" y2="355.2" stroke="#000" stroke-width="0.9" />
<line x1="567.85" y1="355.2" x2="572.85" y2="355.2" stroke="#000" stroke-width="1" />
<circle cx="570.35" cy="339.5" r="1.2" fill="#fff" stroke="#555" stroke-width="0.55"/>
<circle cx="568.05" cy="342" r="1.2" fill="#fff" stroke="#555" stroke-width="0.55"/>
<circle cx="572.55" cy="342" r="1.2" fill="#fff" stroke="#555" stroke-width="0.55"/>
<circle cx="570.35" cy="343.4" r="1.2" fill="#fff" stroke="#555" stroke-width="0.55"/>
<circle cx="570.35" cy="350" r="1.2" fill="#fff" stroke="#555" stroke-width="0.55"/>
<circle cx="570.35" cy="359.1" r="1.2" fill="#fff" stroke="#555" stroke-width="0.55"/>
<rect x="579.55" y="333.15" width="10.5" height="91.85" fill="#ff8000" stroke="#000" stroke-width="1.5"/>
<line x1="584.8" y1="332.4" x2="584.8" y2="320.4" stroke="#111" stroke-width="0.9" />
<line x1="582.3" y1="320.4" x2="587.3" y2="320.4" stroke="#111" stroke-width="1" />
<line x1="584.8" y1="333.9" x2="584.8" y2="342.5" stroke="#000" stroke-width="0.9" />
<line x1="582.3" y1="342.5" x2="587.3" y2="342.5" stroke="#000" stroke-width="1" />
<circle cx="584.8" cy="314.4" r="1.2" fill="#fff" stroke="#555" stroke-width="0.55"/>
<circle cx="584.8" cy="328.7" r="1.2" fill="#fff" stroke="#555" stroke-width="0.55"/>
<circle cx="581.1" cy="342.5" r="1.2" fill="#fff" stroke="#555" stroke-width="0.55"/>
<circle cx="588.1" cy="342.5" r="1.2" fill="#fff" stroke="#555" stroke-width="0.55"/>
<path d="M555.7 302.5 V296.1 H571.1 V302.5" stroke="#7c7c7c" stroke-width="1.1" fill="none" />
<text x="552.7" y="293.1" font-size="7" stroke="#222" stroke-width="0.14" fill="#222" textLength="21.5" lengthAdjust="spacingAndGlyphs">p=0.25</text>
<text x="570.25" y="437.7" font-size="8" stroke="#111" stroke-width="0.14" text-anchor="middle" fill="#111" font-weight="bold">CL</text>
<rect x="603.85" y="342.35" width="10.5" height="82.65" fill="#000" stroke="#000" stroke-width="1.5"/>
<line x1="609.1" y1="341.6" x2="609.1" y2="329.1" stroke="#111" stroke-width="0.9" />
<line x1="606.6" y1="329.1" x2="611.6" y2="329.1" stroke="#111" stroke-width="1" />
<circle cx="609.1" cy="329.1" r="1.2" fill="#fff" stroke="#555" stroke-width="0.55"/>
<circle cx="609.1" cy="333.9" r="1.2" fill="#fff" stroke="#555" stroke-width="0.55"/>
<circle cx="606.5" cy="353.2" r="1.2" fill="#fff" stroke="#555" stroke-width="0.55"/>
<circle cx="611" cy="351.3" r="1.2" fill="#fff" stroke="#555" stroke-width="0.55"/>
<rect x="618.3" y="328.15" width="10.5" height="96.85" fill="#ff0000" stroke="#000" stroke-width="1.5"/>
<line x1="623.55" y1="327.4" x2="623.55" y2="317.4" stroke="#111" stroke-width="0.9" />
<line x1="621.05" y1="317.4" x2="626.05" y2="317.4" stroke="#111" stroke-width="1" />
<line x1="623.55" y1="328.9" x2="623.55" y2="336.3" stroke="#000" stroke-width="0.9" />
<line x1="621.05" y1="336.3" x2="626.05" y2="336.3" stroke="#000" stroke-width="1" />
<circle cx="623.55" cy="312.2" r="1.2" fill="#fff" stroke="#555" stroke-width="0.55"/>
<circle cx="623.55" cy="321.9" r="1.2" fill="#fff" stroke="#555" stroke-width="0.55"/>
<circle cx="621.05" cy="332.4" r="1.2" fill="#fff" stroke="#555" stroke-width="0.55"/>
<circle cx="626.05" cy="332.4" r="1.2" fill="#fff" stroke="#555" stroke-width="0.55"/>
<circle cx="623.55" cy="336" r="1.2" fill="#fff" stroke="#555" stroke-width="0.55"/>
<rect x="632.75" y="327.25" width="10.5" height="97.75" fill="#ff8000" stroke="#000" stroke-width="1.5"/>
<line x1="638" y1="326.5" x2="638" y2="318.6" stroke="#111" stroke-width="0.9" />
<line x1="635.5" y1="318.6" x2="640.5" y2="318.6" stroke="#111" stroke-width="1" />
<line x1="638" y1="328" x2="638" y2="334.3" stroke="#000" stroke-width="0.9" />
<line x1="635.5" y1="334.3" x2="640.5" y2="334.3" stroke="#000" stroke-width="1" />
<circle cx="636" cy="318" r="1.2" fill="#fff" stroke="#555" stroke-width="0.55"/>
<circle cx="639" cy="318" r="1.2" fill="#fff" stroke="#555" stroke-width="0.55"/>
<circle cx="641" cy="319.5" r="1.2" fill="#fff" stroke="#555" stroke-width="0.55"/>
<circle cx="636" cy="321.5" r="1.2" fill="#fff" stroke="#555" stroke-width="0.55"/>
<circle cx="639" cy="322" r="1.2" fill="#fff" stroke="#555" stroke-width="0.55"/>
<circle cx="638" cy="330" r="1.2" fill="#fff" stroke="#555" stroke-width="0.55"/>
<circle cx="638" cy="338.6" r="1.2" fill="#fff" stroke="#555" stroke-width="0.55"/>
<path d="M608.9 302.5 V296.1 H624.3 V302.5" stroke="#7c7c7c" stroke-width="1.1" fill="none" />
<text x="600.6" y="293.1" font-size="7" stroke="#222" stroke-width="0.14" fill="#222" textLength="25" lengthAdjust="spacingAndGlyphs">p=0.082</text>
<text x="622.85" y="437.7" font-size="8" stroke="#111" stroke-width="0.14" text-anchor="middle" fill="#111" font-weight="bold">PIM<tspan font-size="5" font-weight="normal" dy="1.8">2</tspan></text>
<line x1="383.9" y1="299" x2="383.9" y2="426" stroke="#000" stroke-width="1.9" />
<line x1="380.1" y1="425" x2="650.8" y2="425" stroke="#000" stroke-width="1.9" />
<line x1="380.1" y1="425" x2="383.9" y2="425" stroke="#000" stroke-width="1.3" />
<line x1="381.6" y1="416.66" x2="383.9" y2="416.66" stroke="#000" stroke-width="1.3" />
<line x1="381.6" y1="408.32" x2="383.9" y2="408.32" stroke="#000" stroke-width="1.3" />
<line x1="381.6" y1="399.98" x2="383.9" y2="399.98" stroke="#000" stroke-width="1.3" />
<line x1="381.6" y1="391.64" x2="383.9" y2="391.64" stroke="#000" stroke-width="1.3" />
<line x1="380.1" y1="383.3" x2="383.9" y2="383.3" stroke="#000" stroke-width="1.3" />
<line x1="381.6" y1="374.96" x2="383.9" y2="374.96" stroke="#000" stroke-width="1.3" />
<line x1="381.6" y1="366.62" x2="383.9" y2="366.62" stroke="#000" stroke-width="1.3" />
<line x1="381.6" y1="358.28" x2="383.9" y2="358.28" stroke="#000" stroke-width="1.3" />
<line x1="381.6" y1="349.94" x2="383.9" y2="349.94" stroke="#000" stroke-width="1.3" />
<line x1="380.1" y1="341.6" x2="383.9" y2="341.6" stroke="#000" stroke-width="1.3" />
<line x1="381.6" y1="333.26" x2="383.9" y2="333.26" stroke="#000" stroke-width="1.3" />
<line x1="381.6" y1="324.92" x2="383.9" y2="324.92" stroke="#000" stroke-width="1.3" />
<line x1="381.6" y1="316.58" x2="383.9" y2="316.58" stroke="#000" stroke-width="1.3" />
<line x1="381.6" y1="308.24" x2="383.9" y2="308.24" stroke="#000" stroke-width="1.3" />
<line x1="380.1" y1="299.9" x2="383.9" y2="299.9" stroke="#000" stroke-width="1.3" />
<text x="379.6" y="428.2" font-size="8" stroke="#222" stroke-width="0.14" text-anchor="end" fill="#222" textLength="10.3" lengthAdjust="spacingAndGlyphs">0.0</text>
<text x="379.6" y="386.5" font-size="8" stroke="#222" stroke-width="0.14" text-anchor="end" fill="#222" textLength="10.3" lengthAdjust="spacingAndGlyphs">0.5</text>
<text x="379.6" y="344.8" font-size="8" stroke="#222" stroke-width="0.14" text-anchor="end" fill="#222" textLength="10.3" lengthAdjust="spacingAndGlyphs">1.0</text>
<text x="379.6" y="303.1" font-size="8" stroke="#222" stroke-width="0.14" text-anchor="end" fill="#222" textLength="10.3" lengthAdjust="spacingAndGlyphs">1.5</text>
<text transform="translate(354,363.2) rotate(-90)" font-size="8.7" fill="#222" stroke="#222" stroke-width="0.14" text-anchor="middle">Abundance</text>
<text transform="translate(362.8,362.5) rotate(-90)" font-size="8.7" fill="#222" stroke="#222" stroke-width="0.14" text-anchor="middle">(relative to WT)</text>
<text x="516.9" y="458.4" font-size="8.7" stroke="#111" stroke-width="0.14" text-anchor="middle" fill="#111" textLength="42.4" lengthAdjust="spacingAndGlyphs">Lipid Class</text>
<text x="491.5" y="320.6" font-size="7" stroke="#222" stroke-width="0.14" text-anchor="middle" fill="#222">-5</text>
<rect x="589.2" y="243.8" width="11.5" height="6.5" fill="#231f20" />
<rect x="589.2" y="256.4" width="11.5" height="6.5" fill="#ff0000" />
<rect x="589.2" y="269.1" width="11.5" height="6.5" fill="#ff8000" />
<text x="605.8" y="249.8" font-size="7" stroke="#222" stroke-width="0.14" fill="#222" font-style="italic">WT</text>
<text x="605.8" y="262.8" font-size="7" stroke="#222" stroke-width="0.14" fill="#222" font-style="italic">&#916;<tspan font-style="italic">glpQ1</tspan></text>
<text x="605.8" y="274.8" font-size="7" stroke="#222" stroke-width="0.14" fill="#222" font-style="italic" textLength="69.2" lengthAdjust="spacingAndGlyphs">&#916;glpQ1::glpQ1_Pimyc</text>
</svg>
</body></html>
